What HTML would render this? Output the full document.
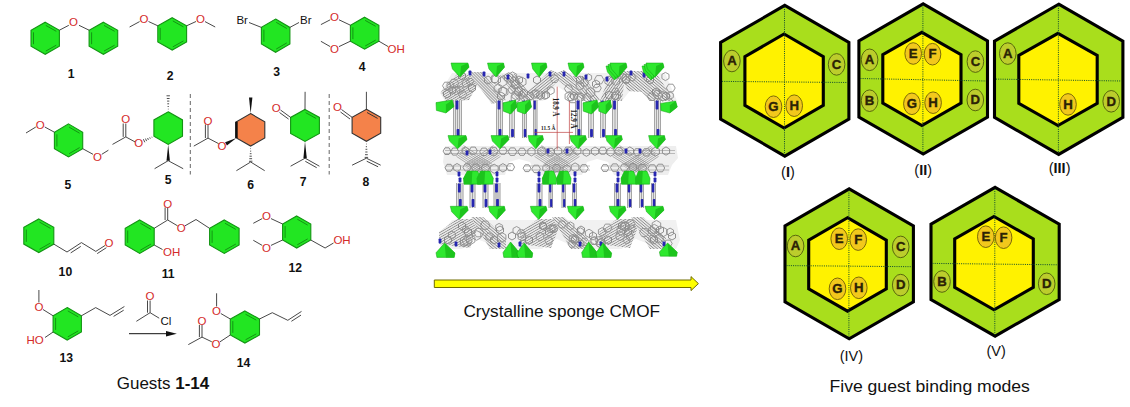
<!DOCTYPE html>
<html><head><meta charset="utf-8"><style>
html,body{margin:0;padding:0;background:#fff;}
body{width:1130px;height:407px;overflow:hidden;font-family:"Liberation Sans",sans-serif;}
svg{display:block;}
</style></head><body>
<svg width="1130" height="407" viewBox="0 0 1130 407">
<rect width="1130" height="407" fill="#fff"/>
<g id="crystal">
<defs><pattern id="hp8" width="2.2" height="2.2" patternUnits="userSpaceOnUse" patternTransform="rotate(-30)"><line x1="0" y1="1.1" x2="2.2" y2="1.1" stroke="#8c8c8c" stroke-width="0.8"/></pattern></defs>
<defs><pattern id="hp7" width="2.2" height="2.2" patternUnits="userSpaceOnUse" patternTransform="rotate(-55)"><line x1="0" y1="1.1" x2="2.2" y2="1.1" stroke="#8c8c8c" stroke-width="0.8"/></pattern></defs>
<defs><pattern id="hp6" width="2.2" height="2.2" patternUnits="userSpaceOnUse" patternTransform="rotate(40)"><line x1="0" y1="1.1" x2="2.2" y2="1.1" stroke="#8c8c8c" stroke-width="0.8"/></pattern></defs>
<defs><pattern id="hp5" width="2.2" height="2.2" patternUnits="userSpaceOnUse" patternTransform="rotate(50)"><line x1="0" y1="1.1" x2="2.2" y2="1.1" stroke="#8c8c8c" stroke-width="0.8"/></pattern></defs>
<defs><pattern id="hp4" width="2.2" height="2.2" patternUnits="userSpaceOnUse" patternTransform="rotate(38)"><line x1="0" y1="1.1" x2="2.2" y2="1.1" stroke="#8c8c8c" stroke-width="0.8"/></pattern></defs>
<defs><pattern id="hp3" width="2.2" height="2.2" patternUnits="userSpaceOnUse" patternTransform="rotate(-39)"><line x1="0" y1="1.1" x2="2.2" y2="1.1" stroke="#8c8c8c" stroke-width="0.8"/></pattern></defs>
<defs><pattern id="hp2" width="2.2" height="2.2" patternUnits="userSpaceOnUse" patternTransform="rotate(45)"><line x1="0" y1="1.1" x2="2.2" y2="1.1" stroke="#8c8c8c" stroke-width="0.8"/></pattern></defs>
<defs><pattern id="hp1" width="2.1" height="2.1" patternUnits="userSpaceOnUse" patternTransform="rotate(45)"><line x1="0" y1="1.05" x2="2.1" y2="1.05" stroke="#8c8c8c" stroke-width="0.8"/></pattern></defs>
<defs><pattern id="hp0" width="2.1" height="2.1" patternUnits="userSpaceOnUse" patternTransform="rotate(-31)"><line x1="0" y1="1.05" x2="2.1" y2="1.05" stroke="#8c8c8c" stroke-width="0.8"/></pattern></defs>
<polygon points="452.0,73.0 665.0,73.0 677.0,101.0 650.0,101.0 643.0,92.0 636.0,87.0 629.0,92.0 622.0,101.0 572.0,101.0 566.0,92.0 557.0,86.0 549.0,92.0 543.0,101.0 493.0,101.0 486.0,92.0 477.0,87.0 469.0,92.0 465.0,101.0 445.0,101.0 440.0,93.0" fill="#f1f1f1"/>
<polygon points="441.0,92.0 458.0,73.0 481.0,78.0 469.0,100.0 446.0,101.0" fill="#ebebeb"/>
<polygon points="441.0,92.0 458.0,73.0 481.0,78.0 469.0,100.0 446.0,101.0" fill="url(#hp0)"/>
<polygon points="468.0,72.0 482.0,72.0 506.0,100.0 492.0,104.0" fill="#ebebeb"/>
<polygon points="468.0,72.0 482.0,72.0 506.0,100.0 492.0,104.0" fill="url(#hp1)"/>
<polygon points="500.0,75.0 515.0,74.0 534.0,100.0 518.0,101.0" fill="#ebebeb"/>
<polygon points="500.0,75.0 515.0,74.0 534.0,100.0 518.0,101.0" fill="url(#hp2)"/>
<polygon points="551.0,70.0 563.0,75.0 540.0,100.0 526.0,93.0" fill="#ebebeb"/>
<polygon points="551.0,70.0 563.0,75.0 540.0,100.0 526.0,93.0" fill="url(#hp3)"/>
<polygon points="552.0,75.0 564.0,70.0 593.0,92.0 582.0,100.0" fill="#ebebeb"/>
<polygon points="552.0,75.0 564.0,70.0 593.0,92.0 582.0,100.0" fill="url(#hp4)"/>
<polygon points="570.0,76.0 584.0,76.0 600.0,100.0 588.0,101.0" fill="#ebebeb"/>
<polygon points="570.0,76.0 584.0,76.0 600.0,100.0 588.0,101.0" fill="url(#hp5)"/>
<polygon points="618.0,71.0 655.0,71.0 674.0,101.0 650.0,101.0 642.0,92.0 628.0,91.0" fill="#ebebeb"/>
<polygon points="618.0,71.0 655.0,71.0 674.0,101.0 650.0,101.0 642.0,92.0 628.0,91.0" fill="url(#hp6)"/>
<polygon points="610.0,74.0 625.0,74.0 622.0,101.0 600.0,101.0" fill="#ebebeb"/>
<polygon points="610.0,74.0 625.0,74.0 622.0,101.0 600.0,101.0" fill="url(#hp7)"/>
<polygon points="465.5,78.0 462.0,80.0 458.5,78.0 458.5,74.0 462.0,72.0 465.5,74.0" fill="none" stroke="#858585" stroke-width="0.9"/>
<polygon points="450.5,96.0 447.0,98.0 443.5,96.0 443.5,92.0 447.0,90.0 450.5,92.0" fill="none" stroke="#858585" stroke-width="0.9"/>
<polygon points="475.5,90.0 472.0,92.0 468.5,90.0 468.5,86.0 472.0,84.0 475.5,86.0" fill="none" stroke="#858585" stroke-width="0.9"/>
<polygon points="491.5,82.0 488.0,84.0 484.5,82.0 484.5,78.0 488.0,76.0 491.5,78.0" fill="none" stroke="#858585" stroke-width="0.9"/>
<polygon points="504.5,98.0 501.0,100.0 497.5,98.0 497.5,94.0 501.0,92.0 504.5,94.0" fill="none" stroke="#858585" stroke-width="0.9"/>
<polygon points="522.5,82.0 519.0,84.0 515.5,82.0 515.5,78.0 519.0,76.0 522.5,78.0" fill="none" stroke="#858585" stroke-width="0.9"/>
<polygon points="527.5,95.0 524.0,97.0 520.5,95.0 520.5,91.0 524.0,89.0 527.5,91.0" fill="none" stroke="#858585" stroke-width="0.9"/>
<polygon points="540.5,82.0 537.0,84.0 533.5,82.0 533.5,78.0 537.0,76.0 540.5,78.0" fill="none" stroke="#858585" stroke-width="0.9"/>
<polygon points="549.5,97.0 546.0,99.0 542.5,97.0 542.5,93.0 546.0,91.0 549.5,93.0" fill="none" stroke="#858585" stroke-width="0.9"/>
<polygon points="583.5,82.0 580.0,84.0 576.5,82.0 576.5,78.0 580.0,76.0 583.5,78.0" fill="none" stroke="#858585" stroke-width="0.9"/>
<polygon points="577.5,98.0 574.0,100.0 570.5,98.0 570.5,94.0 574.0,92.0 577.5,94.0" fill="none" stroke="#858585" stroke-width="0.9"/>
<polygon points="599.5,86.0 596.0,88.0 592.5,86.0 592.5,82.0 596.0,80.0 599.5,82.0" fill="none" stroke="#858585" stroke-width="0.9"/>
<polygon points="612.5,97.0 609.0,99.0 605.5,97.0 605.5,93.0 609.0,91.0 612.5,93.0" fill="none" stroke="#858585" stroke-width="0.9"/>
<polygon points="629.5,82.0 626.0,84.0 622.5,82.0 622.5,78.0 626.0,76.0 629.5,78.0" fill="none" stroke="#858585" stroke-width="0.9"/>
<polygon points="618.5,98.0 615.0,100.0 611.5,98.0 611.5,94.0 615.0,92.0 618.5,94.0" fill="none" stroke="#858585" stroke-width="0.9"/>
<polygon points="653.5,82.0 650.0,84.0 646.5,82.0 646.5,78.0 650.0,76.0 653.5,78.0" fill="none" stroke="#858585" stroke-width="0.9"/>
<polygon points="669.5,98.0 666.0,100.0 662.5,98.0 662.5,94.0 666.0,92.0 669.5,94.0" fill="none" stroke="#858585" stroke-width="0.9"/>
<polygon points="659.5,94.0 656.0,96.0 652.5,94.0 652.5,90.0 656.0,88.0 659.5,90.0" fill="none" stroke="#858585" stroke-width="0.9"/>
<polygon points="501.2,90.6 497.7,92.6 494.1,90.6 494.1,86.5 497.7,84.4 501.2,86.5" fill="none" stroke="#8e8e8e" stroke-width="0.9"/>
<polygon points="591.6,79.3 588.4,81.1 585.3,79.3 585.3,75.7 588.4,73.9 591.6,75.7" fill="none" stroke="#8e8e8e" stroke-width="0.9"/>
<polygon points="507.0,83.9 502.7,86.4 498.4,83.9 498.4,78.9 502.7,76.4 507.0,78.9" fill="none" stroke="#8e8e8e" stroke-width="0.9"/>
<polygon points="572.7,88.6 570.7,92.2 566.5,92.2 564.4,88.6 566.5,85.0 570.7,85.0" fill="none" stroke="#8e8e8e" stroke-width="0.9"/>
<polygon points="500.5,81.9 496.3,84.4 492.0,81.9 492.0,77.0 496.3,74.6 500.5,77.0" fill="none" stroke="#8e8e8e" stroke-width="0.9"/>
<polygon points="619.1,91.4 617.3,94.6 613.6,94.6 611.8,91.4 613.6,88.2 617.3,88.2" fill="none" stroke="#8e8e8e" stroke-width="0.9"/>
<polygon points="516.7,79.1 512.5,81.5 508.3,79.1 508.3,74.3 512.5,71.9 516.7,74.3" fill="none" stroke="#8e8e8e" stroke-width="0.9"/>
<polygon points="584.8,99.2 581.2,101.3 577.6,99.2 577.6,95.1 581.2,93.0 584.8,95.1" fill="none" stroke="#8e8e8e" stroke-width="0.9"/>
<polygon points="538.6,94.4 536.5,98.1 532.3,98.1 530.2,94.4 532.3,90.8 536.5,90.8" fill="none" stroke="#8e8e8e" stroke-width="0.9"/>
<polygon points="651.4,78.2 649.5,81.5 645.8,81.5 643.9,78.2 645.8,75.0 649.5,75.0" fill="none" stroke="#8e8e8e" stroke-width="0.9"/>
<polygon points="506.4,93.8 502.4,96.1 498.3,93.8 498.3,89.1 502.4,86.8 506.4,89.1" fill="none" stroke="#8e8e8e" stroke-width="0.9"/>
<polygon points="544.4,97.4 540.5,99.6 536.7,97.4 536.7,93.0 540.5,90.8 544.4,93.0" fill="none" stroke="#8e8e8e" stroke-width="0.9"/>
<polygon points="583.3,96.8 581.0,100.7 576.4,100.7 574.2,96.8 576.4,92.9 581.0,92.9" fill="none" stroke="#8e8e8e" stroke-width="0.9"/>
<polygon points="603.9,79.8 601.5,83.9 596.7,83.9 594.3,79.8 596.7,75.6 601.5,75.6" fill="none" stroke="#8e8e8e" stroke-width="0.9"/>
<polygon points="613.2,83.2 609.0,85.6 604.9,83.2 604.9,78.5 609.0,76.1 613.2,78.5" fill="none" stroke="#8e8e8e" stroke-width="0.9"/>
<polygon points="512.8,79.9 508.7,82.3 504.5,79.9 504.5,75.1 508.7,72.7 512.8,75.1" fill="none" stroke="#8e8e8e" stroke-width="0.9"/>
<polygon points="466.9,94.4 464.8,98.0 460.6,98.0 458.5,94.4 460.6,90.8 464.8,90.8" fill="none" stroke="#8e8e8e" stroke-width="0.9"/>
<polygon points="450.9,85.8 448.8,89.4 444.6,89.4 442.5,85.8 444.6,82.2 448.8,82.2" fill="none" stroke="#8e8e8e" stroke-width="0.9"/>
<polygon points="455.5,92.0 452.3,93.8 449.2,92.0 449.2,88.3 452.3,86.5 455.5,88.3" fill="none" stroke="#8e8e8e" stroke-width="0.9"/>
<polygon points="574.9,97.2 572.9,100.7 568.9,100.7 566.9,97.2 568.9,93.7 572.9,93.7" fill="none" stroke="#8e8e8e" stroke-width="0.9"/>
<polygon points="463.7,89.8 461.8,93.0 458.2,93.0 456.4,89.8 458.2,86.6 461.8,86.6" fill="none" stroke="#8e8e8e" stroke-width="0.9"/>
<polygon points="507.9,94.3 503.6,96.8 499.3,94.3 499.3,89.4 503.6,86.9 507.9,89.4" fill="none" stroke="#8e8e8e" stroke-width="0.9"/>
<polygon points="519.6,100.5 515.4,102.9 511.2,100.5 511.2,95.6 515.4,93.2 519.6,95.6" fill="none" stroke="#8e8e8e" stroke-width="0.9"/>
<polygon points="534.3,96.0 532.2,99.6 528.1,99.6 526.0,96.0 528.1,92.4 532.2,92.4" fill="none" stroke="#8e8e8e" stroke-width="0.9"/>
<polygon points="590.8,99.8 587.1,101.9 583.4,99.8 583.4,95.5 587.1,93.3 590.8,95.5" fill="none" stroke="#8e8e8e" stroke-width="0.9"/>
<polygon points="594.7,94.9 590.4,97.4 586.2,94.9 586.2,90.0 590.4,87.5 594.7,90.0" fill="none" stroke="#8e8e8e" stroke-width="0.9"/>
<polygon points="675.2,88.0 673.0,91.8 668.6,91.8 666.4,88.0 668.6,84.2 673.0,84.2" fill="none" stroke="#8e8e8e" stroke-width="0.9"/>
<polygon points="520.1,84.7 517.9,88.5 513.5,88.5 511.3,84.7 513.5,80.8 517.9,80.8" fill="none" stroke="#8e8e8e" stroke-width="0.9"/>
<polygon points="459.7,92.6 456.1,94.7 452.4,92.6 452.4,88.3 456.1,86.2 459.7,88.3" fill="none" stroke="#8e8e8e" stroke-width="0.9"/>
<polygon points="588.8,82.4 586.6,86.1 582.3,86.1 580.2,82.4 582.3,78.7 586.6,78.7" fill="none" stroke="#8e8e8e" stroke-width="0.9"/>
<polygon points="669.0,78.5 665.4,80.6 661.9,78.5 661.9,74.4 665.4,72.4 669.0,74.4" fill="none" stroke="#8e8e8e" stroke-width="0.9"/>
<polygon points="515.7,89.8 513.8,93.2 510.0,93.2 508.0,89.8 510.0,86.5 513.8,86.5" fill="none" stroke="#8e8e8e" stroke-width="0.9"/>
<polygon points="519.0,86.7 515.2,88.9 511.3,86.7 511.3,82.3 515.2,80.1 519.0,82.3" fill="none" stroke="#8e8e8e" stroke-width="0.9"/>
<polygon points="631.0,78.4 628.6,82.5 623.9,82.5 621.5,78.4 623.9,74.3 628.6,74.3" fill="none" stroke="#8e8e8e" stroke-width="0.9"/>
<polygon points="519.3,81.1 516.9,85.2 512.2,85.2 509.8,81.1 512.2,77.0 516.9,77.0" fill="none" stroke="#8e8e8e" stroke-width="0.9"/>
<polygon points="523.2,91.6 521.0,95.5 516.4,95.5 514.2,91.6 516.4,87.7 521.0,87.7" fill="none" stroke="#8e8e8e" stroke-width="0.9"/>
<polygon points="469.9,83.4 467.9,86.9 463.8,86.9 461.8,83.4 463.8,79.9 467.9,79.9" fill="none" stroke="#8e8e8e" stroke-width="0.9"/>
<polygon points="547.9,97.6 544.6,99.5 541.3,97.6 541.3,93.8 544.6,91.8 547.9,93.8" fill="none" stroke="#8e8e8e" stroke-width="0.9"/>
<polygon points="619.5,83.2 615.6,85.4 611.8,83.2 611.8,78.8 615.6,76.6 619.5,78.8" fill="none" stroke="#8e8e8e" stroke-width="0.9"/>
<polygon points="499.0,78.8 496.8,82.5 492.5,82.5 490.3,78.8 492.5,75.0 496.8,75.0" fill="none" stroke="#8e8e8e" stroke-width="0.9"/>
<polygon points="519.6,97.4 515.7,99.6 511.9,97.4 511.9,93.0 515.7,90.8 519.6,93.0" fill="none" stroke="#8e8e8e" stroke-width="0.9"/>
<polygon points="524.8,96.9 521.6,98.8 518.4,96.9 518.4,93.2 521.6,91.3 524.8,93.2" fill="none" stroke="#8e8e8e" stroke-width="0.9"/>
<polygon points="583.7,87.9 579.9,90.0 576.2,87.9 576.2,83.5 579.9,81.4 583.7,83.5" fill="none" stroke="#8e8e8e" stroke-width="0.9"/>
<polygon points="554.2,92.6 550.7,94.6 547.3,92.6 547.3,88.6 550.7,86.6 554.2,88.6" fill="none" stroke="#8e8e8e" stroke-width="0.9"/>
<polygon points="453.7,87.4 450.3,89.4 447.0,87.4 447.0,83.6 450.3,81.6 453.7,83.6" fill="none" stroke="#8e8e8e" stroke-width="0.9"/>
<polygon points="667.0,98.7 662.7,101.2 658.4,98.7 658.4,93.7 662.7,91.3 667.0,93.7" fill="none" stroke="#8e8e8e" stroke-width="0.9"/>
<polygon points="577.4,98.7 575.1,102.7 570.5,102.7 568.2,98.7 570.5,94.7 575.1,94.7" fill="none" stroke="#8e8e8e" stroke-width="0.9"/>
<polygon points="620.4,97.5 616.5,99.8 612.5,97.5 612.5,93.0 616.5,90.7 620.4,93.0" fill="none" stroke="#8e8e8e" stroke-width="0.9"/>
<polygon points="573.4,98.9 569.3,101.3 565.1,98.9 565.1,94.1 569.3,91.7 573.4,94.1" fill="none" stroke="#8e8e8e" stroke-width="0.9"/>
<polygon points="473.7,81.6 471.9,84.8 468.3,84.8 466.4,81.6 468.3,78.5 471.9,78.5" fill="none" stroke="#8e8e8e" stroke-width="0.9"/>
<polygon points="656.2,96.7 654.0,100.5 649.6,100.5 647.4,96.7 649.6,92.9 654.0,92.9" fill="none" stroke="#8e8e8e" stroke-width="0.9"/>
<polygon points="558.9,78.8 556.7,82.5 552.4,82.5 550.3,78.8 552.4,75.1 556.7,75.1" fill="none" stroke="#8e8e8e" stroke-width="0.9"/>
<polygon points="601.3,88.1 599.2,91.7 595.0,91.7 592.9,88.1 595.0,84.5 599.2,84.5" fill="none" stroke="#8e8e8e" stroke-width="0.9"/>
<polygon points="526.0,84.2 521.9,86.6 517.7,84.2 517.7,79.4 521.9,77.0 526.0,79.4" fill="none" stroke="#8e8e8e" stroke-width="0.9"/>
<polygon points="635.8,77.4 633.9,80.8 629.9,80.8 628.0,77.4 629.9,74.0 633.9,74.0" fill="none" stroke="#8e8e8e" stroke-width="0.9"/>
<polygon points="662.4,94.5 660.1,98.7 655.3,98.7 652.9,94.5 655.3,90.4 660.1,90.4" fill="none" stroke="#8e8e8e" stroke-width="0.9"/>
<polygon points="539.1,95.4 535.7,97.3 532.2,95.4 532.2,91.4 535.7,89.5 539.1,91.4" fill="none" stroke="#8e8e8e" stroke-width="0.9"/>
<polygon points="458.7,83.4 456.3,87.5 451.6,87.5 449.2,83.4 451.6,79.3 456.3,79.3" fill="none" stroke="#8e8e8e" stroke-width="0.9"/>
<polygon points="626.6,78.9 623.4,80.7 620.2,78.9 620.2,75.2 623.4,73.4 626.6,75.2" fill="none" stroke="#8e8e8e" stroke-width="0.9"/>
<polygon points="673.3,97.5 670.1,99.4 666.9,97.5 666.9,93.8 670.1,91.9 673.3,93.8" fill="none" stroke="#8e8e8e" stroke-width="0.9"/>
<rect x="453" y="100" width="9" height="38" fill="#e4e4e4"/>
<line x1="453.5" y1="100" x2="453.5" y2="138" stroke="#8a8a8a" stroke-width="0.7"/>
<line x1="455.5" y1="100" x2="455.5" y2="138" stroke="#8a8a8a" stroke-width="0.7"/>
<line x1="457.5" y1="100" x2="457.5" y2="138" stroke="#8a8a8a" stroke-width="0.7"/>
<line x1="459.5" y1="100" x2="459.5" y2="138" stroke="#8a8a8a" stroke-width="0.7"/>
<line x1="461.5" y1="100" x2="461.5" y2="138" stroke="#8a8a8a" stroke-width="0.7"/>
<rect x="455.6" y="100.5" width="2.8" height="9.0" rx="0.8" fill="#2626b0"/>
<rect x="456.6" y="129.0" width="2.8" height="8.0" rx="0.8" fill="#2626b0"/>
<rect x="496" y="100" width="7" height="38" fill="#e4e4e4"/>
<line x1="496.5" y1="100" x2="496.5" y2="138" stroke="#8a8a8a" stroke-width="0.7"/>
<line x1="498.5" y1="100" x2="498.5" y2="138" stroke="#8a8a8a" stroke-width="0.7"/>
<line x1="500.5" y1="100" x2="500.5" y2="138" stroke="#8a8a8a" stroke-width="0.7"/>
<line x1="502.5" y1="100" x2="502.5" y2="138" stroke="#8a8a8a" stroke-width="0.7"/>
<rect x="497.6" y="100.5" width="2.8" height="9.0" rx="0.8" fill="#2626b0"/>
<rect x="498.6" y="129.0" width="2.8" height="8.0" rx="0.8" fill="#2626b0"/>
<rect x="509" y="100" width="6" height="38" fill="#e4e4e4"/>
<line x1="509.5" y1="100" x2="509.5" y2="138" stroke="#8a8a8a" stroke-width="0.7"/>
<line x1="512.0" y1="100" x2="512.0" y2="138" stroke="#8a8a8a" stroke-width="0.7"/>
<line x1="514.5" y1="100" x2="514.5" y2="138" stroke="#8a8a8a" stroke-width="0.7"/>
<rect x="510.1" y="100.5" width="2.8" height="9.0" rx="0.8" fill="#2626b0"/>
<rect x="511.1" y="129.0" width="2.8" height="8.0" rx="0.8" fill="#2626b0"/>
<rect x="522" y="100" width="5" height="38" fill="#e4e4e4"/>
<line x1="522.5" y1="100" x2="522.5" y2="138" stroke="#8a8a8a" stroke-width="0.7"/>
<line x1="524.5" y1="100" x2="524.5" y2="138" stroke="#8a8a8a" stroke-width="0.7"/>
<line x1="526.5" y1="100" x2="526.5" y2="138" stroke="#8a8a8a" stroke-width="0.7"/>
<rect x="522.8" y="100.5" width="2.5" height="9.0" rx="0.8" fill="#2626b0"/>
<rect x="523.8" y="129.0" width="2.5" height="8.0" rx="0.8" fill="#2626b0"/>
<rect x="533" y="100" width="4.5" height="38" fill="#e4e4e4"/>
<line x1="533.5" y1="100" x2="533.5" y2="138" stroke="#8a8a8a" stroke-width="0.7"/>
<line x1="535.2" y1="100" x2="535.2" y2="138" stroke="#8a8a8a" stroke-width="0.7"/>
<line x1="537.0" y1="100" x2="537.0" y2="138" stroke="#8a8a8a" stroke-width="0.7"/>
<rect x="533.6" y="100.5" width="2.2" height="9.0" rx="0.8" fill="#2626b0"/>
<rect x="534.6" y="129.0" width="2.2" height="8.0" rx="0.8" fill="#2626b0"/>
<rect x="575" y="100" width="7" height="38" fill="#e4e4e4"/>
<line x1="575.5" y1="100" x2="575.5" y2="138" stroke="#8a8a8a" stroke-width="0.7"/>
<line x1="577.5" y1="100" x2="577.5" y2="138" stroke="#8a8a8a" stroke-width="0.7"/>
<line x1="579.5" y1="100" x2="579.5" y2="138" stroke="#8a8a8a" stroke-width="0.7"/>
<line x1="581.5" y1="100" x2="581.5" y2="138" stroke="#8a8a8a" stroke-width="0.7"/>
<rect x="576.6" y="100.5" width="2.8" height="9.0" rx="0.8" fill="#2626b0"/>
<rect x="577.6" y="129.0" width="2.8" height="8.0" rx="0.8" fill="#2626b0"/>
<rect x="588" y="100" width="6" height="38" fill="#e4e4e4"/>
<line x1="588.5" y1="100" x2="588.5" y2="138" stroke="#8a8a8a" stroke-width="0.7"/>
<line x1="591.0" y1="100" x2="591.0" y2="138" stroke="#8a8a8a" stroke-width="0.7"/>
<line x1="593.5" y1="100" x2="593.5" y2="138" stroke="#8a8a8a" stroke-width="0.7"/>
<rect x="589.1" y="100.5" width="2.8" height="9.0" rx="0.8" fill="#2626b0"/>
<rect x="590.1" y="129.0" width="2.8" height="8.0" rx="0.8" fill="#2626b0"/>
<rect x="600" y="100" width="6" height="38" fill="#e4e4e4"/>
<line x1="600.5" y1="100" x2="600.5" y2="138" stroke="#8a8a8a" stroke-width="0.7"/>
<line x1="603.0" y1="100" x2="603.0" y2="138" stroke="#8a8a8a" stroke-width="0.7"/>
<line x1="605.5" y1="100" x2="605.5" y2="138" stroke="#8a8a8a" stroke-width="0.7"/>
<rect x="601.1" y="100.5" width="2.8" height="9.0" rx="0.8" fill="#2626b0"/>
<rect x="602.1" y="129.0" width="2.8" height="8.0" rx="0.8" fill="#2626b0"/>
<rect x="612" y="100" width="6" height="38" fill="#e4e4e4"/>
<line x1="612.5" y1="100" x2="612.5" y2="138" stroke="#8a8a8a" stroke-width="0.7"/>
<line x1="615.0" y1="100" x2="615.0" y2="138" stroke="#8a8a8a" stroke-width="0.7"/>
<line x1="617.5" y1="100" x2="617.5" y2="138" stroke="#8a8a8a" stroke-width="0.7"/>
<rect x="613.1" y="100.5" width="2.8" height="9.0" rx="0.8" fill="#2626b0"/>
<rect x="614.1" y="129.0" width="2.8" height="8.0" rx="0.8" fill="#2626b0"/>
<rect x="654" y="100" width="7" height="38" fill="#e4e4e4"/>
<line x1="654.5" y1="100" x2="654.5" y2="138" stroke="#8a8a8a" stroke-width="0.7"/>
<line x1="656.5" y1="100" x2="656.5" y2="138" stroke="#8a8a8a" stroke-width="0.7"/>
<line x1="658.5" y1="100" x2="658.5" y2="138" stroke="#8a8a8a" stroke-width="0.7"/>
<line x1="660.5" y1="100" x2="660.5" y2="138" stroke="#8a8a8a" stroke-width="0.7"/>
<rect x="655.6" y="100.5" width="2.8" height="9.0" rx="0.8" fill="#2626b0"/>
<rect x="656.6" y="129.0" width="2.8" height="8.0" rx="0.8" fill="#2626b0"/>
<polygon points="445.0,146.0 676.0,146.0 678.0,158.0 672.0,165.0 668.0,175.0 650.0,175.0 614.0,175.0 608.0,162.0 597.0,159.0 587.0,162.0 582.0,175.0 536.0,175.0 530.0,162.0 519.0,159.0 509.0,162.0 505.0,175.0 447.0,175.0 443.0,162.0" fill="#eeeeee"/>
<line x1="445" y1="150.5" x2="675" y2="150.5" stroke="#a4a4a4" stroke-width="0.7"/>
<line x1="445" y1="153.5" x2="675" y2="153.5" stroke="#a4a4a4" stroke-width="0.7"/>
<polygon points="450.9,151.1 449.0,154.5 445.0,154.5 443.1,151.1 445.0,147.8 449.0,147.8" fill="none" stroke="#858585" stroke-width="0.9"/>
<polygon points="458.8,151.6 456.8,155.1 452.7,155.1 450.7,151.6 452.7,148.0 456.8,148.0" fill="none" stroke="#858585" stroke-width="0.9"/>
<polygon points="468.8,152.9 465.4,154.8 462.1,152.9 462.1,149.0 465.4,147.1 468.8,149.0" fill="none" stroke="#858585" stroke-width="0.9"/>
<polygon points="477.3,150.7 475.3,154.3 471.1,154.3 469.0,150.7 471.1,147.1 475.3,147.1" fill="none" stroke="#858585" stroke-width="0.9"/>
<polygon points="488.3,151.8 486.1,155.5 481.9,155.5 479.7,151.8 481.9,148.1 486.1,148.1" fill="none" stroke="#858585" stroke-width="0.9"/>
<polygon points="498.1,151.3 495.8,155.3 491.2,155.3 488.9,151.3 491.2,147.3 495.8,147.3" fill="none" stroke="#858585" stroke-width="0.9"/>
<polygon points="507.1,150.8 505.0,154.3 500.9,154.3 498.8,150.8 500.9,147.2 505.0,147.2" fill="none" stroke="#858585" stroke-width="0.9"/>
<polygon points="516.8,151.6 514.6,155.4 510.3,155.4 508.1,151.6 510.3,147.9 514.6,147.9" fill="none" stroke="#858585" stroke-width="0.9"/>
<polygon points="526.1,151.8 524.0,155.3 520.0,155.3 517.9,151.8 520.0,148.2 524.0,148.2" fill="none" stroke="#858585" stroke-width="0.9"/>
<polygon points="535.1,153.8 531.5,155.9 527.8,153.8 527.8,149.6 531.5,147.5 535.1,149.6" fill="none" stroke="#858585" stroke-width="0.9"/>
<polygon points="545.6,153.7 541.7,156.0 537.8,153.7 537.8,149.2 541.7,146.9 545.6,149.2" fill="none" stroke="#858585" stroke-width="0.9"/>
<polygon points="554.6,152.1 552.4,155.9 548.1,155.9 545.9,152.1 548.1,148.3 552.4,148.3" fill="none" stroke="#858585" stroke-width="0.9"/>
<polygon points="561.7,153.2 558.0,155.3 554.4,153.2 554.4,149.0 558.0,146.9 561.7,149.0" fill="none" stroke="#858585" stroke-width="0.9"/>
<polygon points="572.7,151.1 570.4,155.0 565.8,155.0 563.5,151.1 565.8,147.1 570.4,147.1" fill="none" stroke="#858585" stroke-width="0.9"/>
<polygon points="580.9,152.9 577.4,154.9 573.8,152.9 573.8,148.8 577.4,146.8 580.9,148.8" fill="none" stroke="#858585" stroke-width="0.9"/>
<polygon points="589.7,154.4 586.4,156.3 583.0,154.4 583.0,150.5 586.4,148.6 589.7,150.5" fill="none" stroke="#858585" stroke-width="0.9"/>
<polygon points="598.7,153.3 595.0,155.4 591.4,153.3 591.4,149.1 595.0,147.0 598.7,149.1" fill="none" stroke="#858585" stroke-width="0.9"/>
<polygon points="606.8,150.7 604.8,154.2 600.8,154.2 598.8,150.7 600.8,147.2 604.8,147.2" fill="none" stroke="#858585" stroke-width="0.9"/>
<polygon points="614.2,154.1 610.5,156.2 606.8,154.1 606.8,149.7 610.5,147.6 614.2,149.7" fill="none" stroke="#858585" stroke-width="0.9"/>
<polygon points="623.3,151.3 621.2,155.0 616.8,155.0 614.7,151.3 616.8,147.5 621.2,147.5" fill="none" stroke="#858585" stroke-width="0.9"/>
<polygon points="633.5,153.4 629.8,155.5 626.1,153.4 626.1,149.1 629.8,146.9 633.5,149.1" fill="none" stroke="#858585" stroke-width="0.9"/>
<polygon points="641.4,152.0 639.4,155.4 635.5,155.4 633.6,152.0 635.5,148.7 639.4,148.7" fill="none" stroke="#858585" stroke-width="0.9"/>
<polygon points="650.6,152.3 648.5,156.0 644.3,156.0 642.2,152.3 644.3,148.7 648.5,148.7" fill="none" stroke="#858585" stroke-width="0.9"/>
<polygon points="659.4,153.9 655.5,156.1 651.6,153.9 651.6,149.3 655.5,147.1 659.4,149.3" fill="none" stroke="#858585" stroke-width="0.9"/>
<polygon points="669.6,153.1 666.0,155.2 662.4,153.1 662.4,149.0 666.0,146.9 669.6,149.0" fill="none" stroke="#858585" stroke-width="0.9"/>
<line x1="463.5" y1="145.6" x2="492.5" y2="164.6" stroke="#949494" stroke-width="0.75"/>
<line x1="462.5" y1="147.2" x2="491.5" y2="166.2" stroke="#949494" stroke-width="0.75"/>
<line x1="461.5" y1="148.7" x2="490.5" y2="167.7" stroke="#949494" stroke-width="0.75"/>
<line x1="460.5" y1="150.2" x2="489.5" y2="169.2" stroke="#949494" stroke-width="0.75"/>
<line x1="459.5" y1="151.8" x2="488.5" y2="170.8" stroke="#949494" stroke-width="0.75"/>
<line x1="458.5" y1="153.3" x2="487.5" y2="172.3" stroke="#949494" stroke-width="0.75"/>
<line x1="457.5" y1="154.8" x2="486.5" y2="173.8" stroke="#949494" stroke-width="0.75"/>
<line x1="456.5" y1="156.4" x2="485.5" y2="175.4" stroke="#949494" stroke-width="0.75"/>
<line x1="500.5" y1="156.4" x2="471.5" y2="175.4" stroke="#949494" stroke-width="0.75"/>
<line x1="499.5" y1="154.8" x2="470.5" y2="173.8" stroke="#949494" stroke-width="0.75"/>
<line x1="498.5" y1="153.3" x2="469.5" y2="172.3" stroke="#949494" stroke-width="0.75"/>
<line x1="497.5" y1="151.8" x2="468.5" y2="170.8" stroke="#949494" stroke-width="0.75"/>
<line x1="496.5" y1="150.2" x2="467.5" y2="169.2" stroke="#949494" stroke-width="0.75"/>
<line x1="495.5" y1="148.7" x2="466.5" y2="167.7" stroke="#949494" stroke-width="0.75"/>
<line x1="494.5" y1="147.2" x2="465.5" y2="166.2" stroke="#949494" stroke-width="0.75"/>
<line x1="493.5" y1="145.6" x2="464.5" y2="164.6" stroke="#949494" stroke-width="0.75"/>
<polygon points="453.0,167.8 451.0,171.2 447.0,171.2 445.0,167.8 447.0,164.3 451.0,164.3" fill="none" stroke="#858585" stroke-width="0.9"/>
<polygon points="460.5,169.5 457.0,171.5 453.6,169.5 453.6,165.5 457.0,163.5 460.5,165.5" fill="none" stroke="#858585" stroke-width="0.9"/>
<polygon points="471.0,167.4 469.0,170.9 465.0,170.9 463.0,167.4 465.0,163.9 469.0,163.9" fill="none" stroke="#858585" stroke-width="0.9"/>
<polygon points="480.0,167.7 477.9,171.4 473.7,171.4 471.5,167.7 473.7,164.1 477.9,164.1" fill="none" stroke="#858585" stroke-width="0.9"/>
<polygon points="489.6,168.0 487.5,171.7 483.2,171.7 481.1,168.0 483.2,164.3 487.5,164.3" fill="none" stroke="#858585" stroke-width="0.9"/>
<polygon points="498.2,171.0 494.2,173.3 490.3,171.0 490.3,166.5 494.2,164.2 498.2,166.5" fill="none" stroke="#858585" stroke-width="0.9"/>
<polygon points="506.5,169.9 502.9,172.0 499.3,169.9 499.3,165.7 502.9,163.6 506.5,165.7" fill="none" stroke="#858585" stroke-width="0.9"/>
<polygon points="514.6,167.1 512.6,170.6 508.6,170.6 506.6,167.1 508.6,163.7 512.6,163.7" fill="none" stroke="#858585" stroke-width="0.9"/>
<line x1="446" y1="166" x2="511" y2="166" stroke="#a4a4a4" stroke-width="0.7"/>
<line x1="446" y1="170" x2="511" y2="170" stroke="#a4a4a4" stroke-width="0.7"/>
<line x1="541.5" y1="145.6" x2="570.5" y2="164.6" stroke="#949494" stroke-width="0.75"/>
<line x1="540.5" y1="147.2" x2="569.5" y2="166.2" stroke="#949494" stroke-width="0.75"/>
<line x1="539.5" y1="148.7" x2="568.5" y2="167.7" stroke="#949494" stroke-width="0.75"/>
<line x1="538.5" y1="150.2" x2="567.5" y2="169.2" stroke="#949494" stroke-width="0.75"/>
<line x1="537.5" y1="151.8" x2="566.5" y2="170.8" stroke="#949494" stroke-width="0.75"/>
<line x1="536.5" y1="153.3" x2="565.5" y2="172.3" stroke="#949494" stroke-width="0.75"/>
<line x1="535.5" y1="154.8" x2="564.5" y2="173.8" stroke="#949494" stroke-width="0.75"/>
<line x1="534.5" y1="156.4" x2="563.5" y2="175.4" stroke="#949494" stroke-width="0.75"/>
<line x1="579.5" y1="156.4" x2="550.5" y2="175.4" stroke="#949494" stroke-width="0.75"/>
<line x1="578.5" y1="154.8" x2="549.5" y2="173.8" stroke="#949494" stroke-width="0.75"/>
<line x1="577.5" y1="153.3" x2="548.5" y2="172.3" stroke="#949494" stroke-width="0.75"/>
<line x1="576.5" y1="151.8" x2="547.5" y2="170.8" stroke="#949494" stroke-width="0.75"/>
<line x1="575.5" y1="150.2" x2="546.5" y2="169.2" stroke="#949494" stroke-width="0.75"/>
<line x1="574.5" y1="148.7" x2="545.5" y2="167.7" stroke="#949494" stroke-width="0.75"/>
<line x1="573.5" y1="147.2" x2="544.5" y2="166.2" stroke="#949494" stroke-width="0.75"/>
<line x1="572.5" y1="145.6" x2="543.5" y2="164.6" stroke="#949494" stroke-width="0.75"/>
<polygon points="530.9,168.2 528.9,171.6 525.1,171.6 523.1,168.2 525.1,164.8 528.9,164.8" fill="none" stroke="#858585" stroke-width="0.9"/>
<polygon points="540.4,168.9 538.3,172.6 534.0,172.6 531.8,168.9 534.0,165.2 538.3,165.2" fill="none" stroke="#858585" stroke-width="0.9"/>
<polygon points="549.6,170.2 546.2,172.1 542.8,170.2 542.8,166.3 546.2,164.3 549.6,166.3" fill="none" stroke="#858585" stroke-width="0.9"/>
<polygon points="560.8,168.2 558.7,171.8 554.5,171.8 552.4,168.2 554.5,164.6 558.7,164.6" fill="none" stroke="#858585" stroke-width="0.9"/>
<polygon points="570.3,171.1 566.6,173.2 563.0,171.1 563.0,166.9 566.6,164.8 570.3,166.9" fill="none" stroke="#858585" stroke-width="0.9"/>
<polygon points="578.9,169.5 575.1,171.7 571.3,169.5 571.3,165.1 575.1,162.9 578.9,165.1" fill="none" stroke="#858585" stroke-width="0.9"/>
<polygon points="588.2,168.4 586.1,172.0 581.9,172.0 579.8,168.4 581.9,164.7 586.1,164.7" fill="none" stroke="#858585" stroke-width="0.9"/>
<line x1="524" y1="166" x2="590" y2="166" stroke="#a4a4a4" stroke-width="0.7"/>
<line x1="524" y1="170" x2="590" y2="170" stroke="#a4a4a4" stroke-width="0.7"/>
<line x1="619.4" y1="145.6" x2="649.4" y2="164.6" stroke="#949494" stroke-width="0.75"/>
<line x1="618.5" y1="147.1" x2="648.5" y2="166.1" stroke="#949494" stroke-width="0.75"/>
<line x1="617.5" y1="148.7" x2="647.5" y2="167.7" stroke="#949494" stroke-width="0.75"/>
<line x1="616.5" y1="150.2" x2="646.5" y2="169.2" stroke="#949494" stroke-width="0.75"/>
<line x1="615.5" y1="151.8" x2="645.5" y2="170.8" stroke="#949494" stroke-width="0.75"/>
<line x1="614.5" y1="153.3" x2="644.5" y2="172.3" stroke="#949494" stroke-width="0.75"/>
<line x1="613.5" y1="154.9" x2="643.5" y2="173.9" stroke="#949494" stroke-width="0.75"/>
<line x1="612.6" y1="156.4" x2="642.6" y2="175.4" stroke="#949494" stroke-width="0.75"/>
<line x1="658.6" y1="156.3" x2="630.6" y2="175.3" stroke="#949494" stroke-width="0.75"/>
<line x1="657.6" y1="154.8" x2="629.6" y2="173.8" stroke="#949494" stroke-width="0.75"/>
<line x1="656.5" y1="153.3" x2="628.5" y2="172.3" stroke="#949494" stroke-width="0.75"/>
<line x1="655.5" y1="151.8" x2="627.5" y2="170.8" stroke="#949494" stroke-width="0.75"/>
<line x1="654.5" y1="150.2" x2="626.5" y2="169.2" stroke="#949494" stroke-width="0.75"/>
<line x1="653.5" y1="148.7" x2="625.5" y2="167.7" stroke="#949494" stroke-width="0.75"/>
<line x1="652.4" y1="147.2" x2="624.4" y2="166.2" stroke="#949494" stroke-width="0.75"/>
<line x1="651.4" y1="145.7" x2="623.4" y2="164.7" stroke="#949494" stroke-width="0.75"/>
<polygon points="608.9,168.1 607.0,171.4 603.0,171.4 601.1,168.1 603.0,164.7 607.0,164.7" fill="none" stroke="#858585" stroke-width="0.9"/>
<polygon points="619.1,167.6 616.9,171.3 612.6,171.3 610.5,167.6 612.6,163.9 616.9,163.9" fill="none" stroke="#858585" stroke-width="0.9"/>
<polygon points="628.5,167.5 626.4,171.1 622.3,171.1 620.3,167.5 622.3,164.0 626.4,164.0" fill="none" stroke="#858585" stroke-width="0.9"/>
<polygon points="636.6,169.6 632.9,171.7 629.3,169.6 629.3,165.3 632.9,163.2 636.6,165.3" fill="none" stroke="#858585" stroke-width="0.9"/>
<polygon points="646.8,168.2 644.6,172.1 640.1,172.1 637.9,168.2 640.1,164.4 644.6,164.4" fill="none" stroke="#858585" stroke-width="0.9"/>
<polygon points="656.6,168.6 654.5,172.4 650.1,172.4 647.9,168.6 650.1,164.8 654.5,164.8" fill="none" stroke="#858585" stroke-width="0.9"/>
<polygon points="664.7,168.0 662.5,171.8 658.2,171.8 656.0,168.0 658.2,164.2 662.5,164.2" fill="none" stroke="#858585" stroke-width="0.9"/>
<line x1="602" y1="166" x2="669" y2="166" stroke="#a4a4a4" stroke-width="0.7"/>
<line x1="602" y1="170" x2="669" y2="170" stroke="#a4a4a4" stroke-width="0.7"/>
<rect x="456" y="183" width="7.5" height="25" fill="#e4e4e4"/>
<line x1="456.5" y1="183" x2="456.5" y2="208" stroke="#8a8a8a" stroke-width="0.7"/>
<line x1="458.7" y1="183" x2="458.7" y2="208" stroke="#8a8a8a" stroke-width="0.7"/>
<line x1="460.8" y1="183" x2="460.8" y2="208" stroke="#8a8a8a" stroke-width="0.7"/>
<line x1="463.0" y1="183" x2="463.0" y2="208" stroke="#8a8a8a" stroke-width="0.7"/>
<rect x="457.9" y="183.5" width="2.8" height="9.0" rx="0.8" fill="#2626b0"/>
<rect x="458.9" y="199.0" width="2.8" height="8.0" rx="0.8" fill="#2626b0"/>
<rect x="469.5" y="183" width="6.0" height="25" fill="#e4e4e4"/>
<line x1="470.0" y1="183" x2="470.0" y2="208" stroke="#8a8a8a" stroke-width="0.7"/>
<line x1="472.5" y1="183" x2="472.5" y2="208" stroke="#8a8a8a" stroke-width="0.7"/>
<line x1="475.0" y1="183" x2="475.0" y2="208" stroke="#8a8a8a" stroke-width="0.7"/>
<rect x="470.6" y="183.5" width="2.8" height="9.0" rx="0.8" fill="#2626b0"/>
<rect x="471.6" y="199.0" width="2.8" height="8.0" rx="0.8" fill="#2626b0"/>
<rect x="482.5" y="183" width="6.0" height="25" fill="#e4e4e4"/>
<line x1="483.0" y1="183" x2="483.0" y2="208" stroke="#8a8a8a" stroke-width="0.7"/>
<line x1="485.5" y1="183" x2="485.5" y2="208" stroke="#8a8a8a" stroke-width="0.7"/>
<line x1="488.0" y1="183" x2="488.0" y2="208" stroke="#8a8a8a" stroke-width="0.7"/>
<rect x="483.6" y="183.5" width="2.8" height="9.0" rx="0.8" fill="#2626b0"/>
<rect x="484.6" y="199.0" width="2.8" height="8.0" rx="0.8" fill="#2626b0"/>
<rect x="493.5" y="183" width="7.0" height="25" fill="#e4e4e4"/>
<line x1="494.0" y1="183" x2="494.0" y2="208" stroke="#8a8a8a" stroke-width="0.7"/>
<line x1="496.0" y1="183" x2="496.0" y2="208" stroke="#8a8a8a" stroke-width="0.7"/>
<line x1="498.0" y1="183" x2="498.0" y2="208" stroke="#8a8a8a" stroke-width="0.7"/>
<line x1="500.0" y1="183" x2="500.0" y2="208" stroke="#8a8a8a" stroke-width="0.7"/>
<rect x="495.1" y="183.5" width="2.8" height="9.0" rx="0.8" fill="#2626b0"/>
<rect x="496.1" y="199.0" width="2.8" height="8.0" rx="0.8" fill="#2626b0"/>
<rect x="536.5" y="183" width="6.0" height="25" fill="#e4e4e4"/>
<line x1="537.0" y1="183" x2="537.0" y2="208" stroke="#8a8a8a" stroke-width="0.7"/>
<line x1="539.5" y1="183" x2="539.5" y2="208" stroke="#8a8a8a" stroke-width="0.7"/>
<line x1="542.0" y1="183" x2="542.0" y2="208" stroke="#8a8a8a" stroke-width="0.7"/>
<rect x="537.6" y="183.5" width="2.8" height="9.0" rx="0.8" fill="#2626b0"/>
<rect x="538.6" y="199.0" width="2.8" height="8.0" rx="0.8" fill="#2626b0"/>
<rect x="548.5" y="183" width="4.5" height="25" fill="#e4e4e4"/>
<line x1="549.0" y1="183" x2="549.0" y2="208" stroke="#8a8a8a" stroke-width="0.7"/>
<line x1="550.8" y1="183" x2="550.8" y2="208" stroke="#8a8a8a" stroke-width="0.7"/>
<line x1="552.5" y1="183" x2="552.5" y2="208" stroke="#8a8a8a" stroke-width="0.7"/>
<rect x="549.1" y="183.5" width="2.2" height="9.0" rx="0.8" fill="#2626b0"/>
<rect x="550.1" y="199.0" width="2.2" height="8.0" rx="0.8" fill="#2626b0"/>
<rect x="561.5" y="183" width="4.5" height="25" fill="#e4e4e4"/>
<line x1="562.0" y1="183" x2="562.0" y2="208" stroke="#8a8a8a" stroke-width="0.7"/>
<line x1="563.8" y1="183" x2="563.8" y2="208" stroke="#8a8a8a" stroke-width="0.7"/>
<line x1="565.5" y1="183" x2="565.5" y2="208" stroke="#8a8a8a" stroke-width="0.7"/>
<rect x="562.1" y="183.5" width="2.2" height="9.0" rx="0.8" fill="#2626b0"/>
<rect x="563.1" y="199.0" width="2.2" height="8.0" rx="0.8" fill="#2626b0"/>
<rect x="572" y="183" width="5" height="25" fill="#e4e4e4"/>
<line x1="572.5" y1="183" x2="572.5" y2="208" stroke="#8a8a8a" stroke-width="0.7"/>
<line x1="574.5" y1="183" x2="574.5" y2="208" stroke="#8a8a8a" stroke-width="0.7"/>
<line x1="576.5" y1="183" x2="576.5" y2="208" stroke="#8a8a8a" stroke-width="0.7"/>
<rect x="572.8" y="183.5" width="2.5" height="9.0" rx="0.8" fill="#2626b0"/>
<rect x="573.8" y="199.0" width="2.5" height="8.0" rx="0.8" fill="#2626b0"/>
<rect x="614" y="183" width="7" height="25" fill="#e4e4e4"/>
<line x1="614.5" y1="183" x2="614.5" y2="208" stroke="#8a8a8a" stroke-width="0.7"/>
<line x1="616.5" y1="183" x2="616.5" y2="208" stroke="#8a8a8a" stroke-width="0.7"/>
<line x1="618.5" y1="183" x2="618.5" y2="208" stroke="#8a8a8a" stroke-width="0.7"/>
<line x1="620.5" y1="183" x2="620.5" y2="208" stroke="#8a8a8a" stroke-width="0.7"/>
<rect x="615.6" y="183.5" width="2.8" height="9.0" rx="0.8" fill="#2626b0"/>
<rect x="616.6" y="199.0" width="2.8" height="8.0" rx="0.8" fill="#2626b0"/>
<rect x="627" y="183" width="5" height="25" fill="#e4e4e4"/>
<line x1="627.5" y1="183" x2="627.5" y2="208" stroke="#8a8a8a" stroke-width="0.7"/>
<line x1="629.5" y1="183" x2="629.5" y2="208" stroke="#8a8a8a" stroke-width="0.7"/>
<line x1="631.5" y1="183" x2="631.5" y2="208" stroke="#8a8a8a" stroke-width="0.7"/>
<rect x="627.8" y="183.5" width="2.5" height="9.0" rx="0.8" fill="#2626b0"/>
<rect x="628.8" y="199.0" width="2.5" height="8.0" rx="0.8" fill="#2626b0"/>
<rect x="639" y="183" width="5" height="25" fill="#e4e4e4"/>
<line x1="639.5" y1="183" x2="639.5" y2="208" stroke="#8a8a8a" stroke-width="0.7"/>
<line x1="641.5" y1="183" x2="641.5" y2="208" stroke="#8a8a8a" stroke-width="0.7"/>
<line x1="643.5" y1="183" x2="643.5" y2="208" stroke="#8a8a8a" stroke-width="0.7"/>
<rect x="639.8" y="183.5" width="2.5" height="9.0" rx="0.8" fill="#2626b0"/>
<rect x="640.8" y="199.0" width="2.5" height="8.0" rx="0.8" fill="#2626b0"/>
<rect x="651" y="183" width="5" height="25" fill="#e4e4e4"/>
<line x1="651.5" y1="183" x2="651.5" y2="208" stroke="#8a8a8a" stroke-width="0.7"/>
<line x1="653.5" y1="183" x2="653.5" y2="208" stroke="#8a8a8a" stroke-width="0.7"/>
<line x1="655.5" y1="183" x2="655.5" y2="208" stroke="#8a8a8a" stroke-width="0.7"/>
<rect x="651.8" y="183.5" width="2.5" height="9.0" rx="0.8" fill="#2626b0"/>
<rect x="652.8" y="199.0" width="2.5" height="8.0" rx="0.8" fill="#2626b0"/>
<polygon points="442.0,232.0 452.0,220.0 676.0,220.0 680.0,240.0 676.0,249.0 656.0,249.0 646.0,243.0 636.0,239.0 626.0,243.0 622.0,249.0 572.0,249.0 566.0,243.0 557.0,239.0 548.0,243.0 542.0,249.0 493.0,249.0 487.0,243.0 477.0,239.0 468.0,243.0 462.0,249.0 440.0,249.0" fill="#f1f1f1"/>
<polygon points="457.0,219.0 481.0,219.0 470.0,248.0 439.0,244.0 439.0,232.0" fill="#ebebeb"/>
<polygon points="457.0,219.0 481.0,219.0 470.0,248.0 439.0,244.0 439.0,232.0" fill="url(#hp8)"/>
<polygon points="471.0,217.0 483.0,217.0 506.0,238.0 506.0,249.0 490.0,249.0" fill="#ebebeb"/>
<polygon points="471.0,217.0 483.0,217.0 506.0,238.0 506.0,249.0 490.0,249.0" fill="url(#hp6)"/>
<polygon points="465.5,228.0 462.0,230.0 458.5,228.0 458.5,224.0 462.0,222.0 465.5,224.0" fill="none" stroke="#858585" stroke-width="0.9"/>
<polygon points="451.5,242.0 448.0,244.0 444.5,242.0 444.5,238.0 448.0,236.0 451.5,238.0" fill="none" stroke="#858585" stroke-width="0.9"/>
<polygon points="471.5,234.0 468.0,236.0 464.5,234.0 464.5,230.0 468.0,228.0 471.5,230.0" fill="none" stroke="#858585" stroke-width="0.9"/>
<polygon points="497.5,242.0 494.0,244.0 490.5,242.0 490.5,238.0 494.0,236.0 497.5,238.0" fill="none" stroke="#858585" stroke-width="0.9"/>
<polygon points="503.5,232.0 500.0,234.0 496.5,232.0 496.5,228.0 500.0,226.0 503.5,228.0" fill="none" stroke="#858585" stroke-width="0.9"/>
<polygon points="515.5,238.0 512.0,240.0 508.5,238.0 508.5,234.0 512.0,232.0 515.5,234.0" fill="none" stroke="#858585" stroke-width="0.9"/>
<polygon points="538.0,219.0 562.0,219.0 551.0,248.0 520.0,244.0 520.0,232.0" fill="#ebebeb"/>
<polygon points="538.0,219.0 562.0,219.0 551.0,248.0 520.0,244.0 520.0,232.0" fill="url(#hp8)"/>
<polygon points="552.0,217.0 564.0,217.0 587.0,238.0 587.0,249.0 571.0,249.0" fill="#ebebeb"/>
<polygon points="552.0,217.0 564.0,217.0 587.0,238.0 587.0,249.0 571.0,249.0" fill="url(#hp6)"/>
<polygon points="546.5,228.0 543.0,230.0 539.5,228.0 539.5,224.0 543.0,222.0 546.5,224.0" fill="none" stroke="#858585" stroke-width="0.9"/>
<polygon points="532.5,242.0 529.0,244.0 525.5,242.0 525.5,238.0 529.0,236.0 532.5,238.0" fill="none" stroke="#858585" stroke-width="0.9"/>
<polygon points="552.5,234.0 549.0,236.0 545.5,234.0 545.5,230.0 549.0,228.0 552.5,230.0" fill="none" stroke="#858585" stroke-width="0.9"/>
<polygon points="578.5,242.0 575.0,244.0 571.5,242.0 571.5,238.0 575.0,236.0 578.5,238.0" fill="none" stroke="#858585" stroke-width="0.9"/>
<polygon points="584.5,232.0 581.0,234.0 577.5,232.0 577.5,228.0 581.0,226.0 584.5,228.0" fill="none" stroke="#858585" stroke-width="0.9"/>
<polygon points="596.5,238.0 593.0,240.0 589.5,238.0 589.5,234.0 593.0,232.0 596.5,234.0" fill="none" stroke="#858585" stroke-width="0.9"/>
<polygon points="617.0,219.0 641.0,219.0 630.0,248.0 599.0,244.0 599.0,232.0" fill="#ebebeb"/>
<polygon points="617.0,219.0 641.0,219.0 630.0,248.0 599.0,244.0 599.0,232.0" fill="url(#hp8)"/>
<polygon points="631.0,217.0 643.0,217.0 666.0,238.0 666.0,249.0 650.0,249.0" fill="#ebebeb"/>
<polygon points="631.0,217.0 643.0,217.0 666.0,238.0 666.0,249.0 650.0,249.0" fill="url(#hp6)"/>
<polygon points="625.5,228.0 622.0,230.0 618.5,228.0 618.5,224.0 622.0,222.0 625.5,224.0" fill="none" stroke="#858585" stroke-width="0.9"/>
<polygon points="611.5,242.0 608.0,244.0 604.5,242.0 604.5,238.0 608.0,236.0 611.5,238.0" fill="none" stroke="#858585" stroke-width="0.9"/>
<polygon points="631.5,234.0 628.0,236.0 624.5,234.0 624.5,230.0 628.0,228.0 631.5,230.0" fill="none" stroke="#858585" stroke-width="0.9"/>
<polygon points="657.5,242.0 654.0,244.0 650.5,242.0 650.5,238.0 654.0,236.0 657.5,238.0" fill="none" stroke="#858585" stroke-width="0.9"/>
<polygon points="663.5,232.0 660.0,234.0 656.5,232.0 656.5,228.0 660.0,226.0 663.5,228.0" fill="none" stroke="#858585" stroke-width="0.9"/>
<polygon points="675.5,238.0 672.0,240.0 668.5,238.0 668.5,234.0 672.0,232.0 675.5,234.0" fill="none" stroke="#858585" stroke-width="0.9"/>
<polygon points="520.1,232.6 516.6,234.6 513.0,232.6 513.0,228.5 516.6,226.5 520.1,228.5" fill="none" stroke="#8e8e8e" stroke-width="0.9"/>
<polygon points="583.8,233.6 580.4,235.5 577.1,233.6 577.1,229.7 580.4,227.8 583.8,229.7" fill="none" stroke="#8e8e8e" stroke-width="0.9"/>
<polygon points="546.3,227.9 543.2,229.7 540.1,227.9 540.1,224.3 543.2,222.5 546.3,224.3" fill="none" stroke="#8e8e8e" stroke-width="0.9"/>
<polygon points="632.9,238.4 629.7,240.3 626.5,238.4 626.5,234.8 629.7,232.9 632.9,234.8" fill="none" stroke="#8e8e8e" stroke-width="0.9"/>
<polygon points="588.8,241.8 586.7,245.4 582.6,245.4 580.5,241.8 582.6,238.2 586.7,238.2" fill="none" stroke="#8e8e8e" stroke-width="0.9"/>
<polygon points="592.6,235.4 589.0,237.5 585.4,235.4 585.4,231.3 589.0,229.2 592.6,231.3" fill="none" stroke="#8e8e8e" stroke-width="0.9"/>
<polygon points="625.6,233.0 621.4,235.5 617.1,233.0 617.1,228.1 621.4,225.6 625.6,228.1" fill="none" stroke="#8e8e8e" stroke-width="0.9"/>
<polygon points="555.1,228.9 552.9,232.6 548.6,232.6 546.4,228.9 548.6,225.1 552.9,225.1" fill="none" stroke="#8e8e8e" stroke-width="0.9"/>
<polygon points="635.3,228.4 633.4,231.7 629.6,231.7 627.8,228.4 629.6,225.1 633.4,225.1" fill="none" stroke="#8e8e8e" stroke-width="0.9"/>
<polygon points="667.2,234.4 663.0,236.8 658.8,234.4 658.8,229.6 663.0,227.1 667.2,229.6" fill="none" stroke="#8e8e8e" stroke-width="0.9"/>
<polygon points="474.9,242.0 470.7,244.5 466.4,242.0 466.4,237.1 470.7,234.7 474.9,237.1" fill="none" stroke="#8e8e8e" stroke-width="0.9"/>
<polygon points="603.9,240.6 601.7,244.4 597.3,244.4 595.2,240.6 597.3,236.8 601.7,236.8" fill="none" stroke="#8e8e8e" stroke-width="0.9"/>
<polygon points="557.9,228.7 555.8,232.3 551.7,232.3 549.6,228.7 551.7,225.1 555.8,225.1" fill="none" stroke="#8e8e8e" stroke-width="0.9"/>
<polygon points="579.3,238.8 577.2,242.4 573.1,242.4 571.1,238.8 573.1,235.2 577.2,235.2" fill="none" stroke="#8e8e8e" stroke-width="0.9"/>
<polygon points="526.2,243.5 524.4,246.6 520.8,246.6 519.0,243.5 520.8,240.3 524.4,240.3" fill="none" stroke="#8e8e8e" stroke-width="0.9"/>
<polygon points="605.2,245.5 601.0,248.0 596.7,245.5 596.7,240.6 601.0,238.1 605.2,240.6" fill="none" stroke="#8e8e8e" stroke-width="0.9"/>
<polygon points="635.2,223.9 632.8,227.9 628.2,227.9 625.8,223.9 628.2,219.8 632.8,219.8" fill="none" stroke="#8e8e8e" stroke-width="0.9"/>
<polygon points="472.1,241.0 469.6,245.2 464.7,245.2 462.3,241.0 464.7,236.7 469.6,236.7" fill="none" stroke="#8e8e8e" stroke-width="0.9"/>
<polygon points="575.7,243.9 573.8,247.2 569.9,247.2 568.0,243.9 569.9,240.5 573.8,240.5" fill="none" stroke="#8e8e8e" stroke-width="0.9"/>
<polygon points="502.6,229.3 499.1,231.3 495.7,229.3 495.7,225.3 499.1,223.4 502.6,225.3" fill="none" stroke="#8e8e8e" stroke-width="0.9"/>
<polygon points="505.9,239.8 501.7,242.3 497.4,239.8 497.4,234.9 501.7,232.5 505.9,234.9" fill="none" stroke="#8e8e8e" stroke-width="0.9"/>
<polygon points="673.5,234.0 670.1,235.9 666.6,234.0 666.6,230.0 670.1,228.1 673.5,230.0" fill="none" stroke="#8e8e8e" stroke-width="0.9"/>
<polygon points="543.8,238.8 540.0,241.1 536.2,238.8 536.2,234.4 540.0,232.2 543.8,234.4" fill="none" stroke="#8e8e8e" stroke-width="0.9"/>
<polygon points="483.7,232.6 481.3,236.8 476.4,236.8 474.0,232.6 476.4,228.4 481.3,228.4" fill="none" stroke="#8e8e8e" stroke-width="0.9"/>
<polygon points="468.9,243.4 464.6,245.8 460.4,243.4 460.4,238.5 464.6,236.1 468.9,238.5" fill="none" stroke="#8e8e8e" stroke-width="0.9"/>
<polygon points="584.2,243.6 582.3,246.9 578.5,246.9 576.6,243.6 578.5,240.3 582.3,240.3" fill="none" stroke="#8e8e8e" stroke-width="0.9"/>
<polygon points="480.8,237.8 476.6,240.3 472.3,237.8 472.3,232.9 476.6,230.5 480.8,232.9" fill="none" stroke="#8e8e8e" stroke-width="0.9"/>
<polygon points="604.3,245.7 600.4,248.0 596.6,245.7 596.6,241.3 600.4,239.1 604.3,241.3" fill="none" stroke="#8e8e8e" stroke-width="0.9"/>
<polygon points="655.3,232.4 651.9,234.3 648.5,232.4 648.5,228.4 651.9,226.4 655.3,228.4" fill="none" stroke="#8e8e8e" stroke-width="0.9"/>
<polygon points="492.8,238.6 489.3,240.6 485.9,238.6 485.9,234.7 489.3,232.7 492.8,234.7" fill="none" stroke="#8e8e8e" stroke-width="0.9"/>
<polygon points="629.0,228.9 624.7,231.4 620.4,228.9 620.4,224.0 624.7,221.5 629.0,224.0" fill="none" stroke="#8e8e8e" stroke-width="0.9"/>
<polygon points="612.0,227.9 609.8,231.8 605.3,231.8 603.1,227.9 605.3,224.1 609.8,224.1" fill="none" stroke="#8e8e8e" stroke-width="0.9"/>
<polygon points="648.8,232.6 646.5,236.6 641.9,236.6 639.5,232.6 641.9,228.6 646.5,228.6" fill="none" stroke="#8e8e8e" stroke-width="0.9"/>
<polygon points="556.2,228.5 554.3,231.9 550.3,231.9 548.4,228.5 550.3,225.1 554.3,225.1" fill="none" stroke="#8e8e8e" stroke-width="0.9"/>
<polygon points="672.2,243.5 670.2,246.9 666.3,246.9 664.3,243.5 666.3,240.1 670.2,240.1" fill="none" stroke="#8e8e8e" stroke-width="0.9"/>
<polygon points="629.6,226.3 627.3,230.2 622.9,230.2 620.6,226.3 622.9,222.4 627.3,222.4" fill="none" stroke="#8e8e8e" stroke-width="0.9"/>
<polygon points="658.5,231.5 654.3,233.9 650.2,231.5 650.2,226.7 654.3,224.3 658.5,226.7" fill="none" stroke="#8e8e8e" stroke-width="0.9"/>
<polygon points="490.0,225.2 487.6,229.3 482.9,229.3 480.5,225.2 482.9,221.1 487.6,221.1" fill="none" stroke="#8e8e8e" stroke-width="0.9"/>
<polygon points="467.3,245.0 463.9,247.0 460.4,245.0 460.4,241.0 463.9,239.0 467.3,241.0" fill="none" stroke="#8e8e8e" stroke-width="0.9"/>
<polygon points="552.8,240.6 550.8,244.1 546.7,244.1 544.7,240.6 546.7,237.1 550.8,237.1" fill="none" stroke="#8e8e8e" stroke-width="0.9"/>
<polygon points="525.3,233.5 523.2,237.2 518.9,237.2 516.7,233.5 518.9,229.8 523.2,229.8" fill="none" stroke="#8e8e8e" stroke-width="0.9"/>
<polygon points="598.3,240.8 596.2,244.5 591.9,244.5 589.8,240.8 591.9,237.1 596.2,237.1" fill="none" stroke="#8e8e8e" stroke-width="0.9"/>
<polygon points="573.9,227.9 570.5,229.8 567.0,227.9 567.0,223.9 570.5,221.9 573.9,223.9" fill="none" stroke="#8e8e8e" stroke-width="0.9"/>
<polygon points="660.7,227.8 656.5,230.2 652.2,227.8 652.2,222.9 656.5,220.4 660.7,222.9" fill="none" stroke="#8e8e8e" stroke-width="0.9"/>
<polygon points="605.8,234.0 602.1,236.1 598.4,234.0 598.4,229.7 602.1,227.6 605.8,229.7" fill="none" stroke="#8e8e8e" stroke-width="0.9"/>
<polygon points="525.6,238.8 521.9,240.9 518.1,238.8 518.1,234.4 521.9,232.2 525.6,234.4" fill="none" stroke="#8e8e8e" stroke-width="0.9"/>
<polygon points="566.1,224.4 564.1,227.9 560.0,227.9 558.0,224.4 560.0,221.0 564.1,221.0" fill="none" stroke="#8e8e8e" stroke-width="0.9"/>
<polygon points="597.7,242.4 594.4,244.3 591.1,242.4 591.1,238.6 594.4,236.7 597.7,238.6" fill="none" stroke="#8e8e8e" stroke-width="0.9"/>
<polygon points="655.8,238.7 653.9,242.0 650.1,242.0 648.2,238.7 650.1,235.5 653.9,235.5" fill="none" stroke="#8e8e8e" stroke-width="0.9"/>
<polygon points="663.2,240.7 659.3,243.0 655.4,240.7 655.4,236.2 659.3,234.0 663.2,236.2" fill="none" stroke="#8e8e8e" stroke-width="0.9"/>
<polygon points="576.6,240.7 573.0,242.8 569.3,240.7 569.3,236.4 573.0,234.3 576.6,236.4" fill="none" stroke="#8e8e8e" stroke-width="0.9"/>
<polygon points="630.4,239.9 628.5,243.2 624.7,243.2 622.9,239.9 624.7,236.7 628.5,236.7" fill="none" stroke="#8e8e8e" stroke-width="0.9"/>
<polygon points="624.1,238.4 620.1,240.7 616.0,238.4 616.0,233.7 620.1,231.4 624.1,233.7" fill="none" stroke="#8e8e8e" stroke-width="0.9"/>
<polygon points="469.2,229.5 467.4,232.7 463.7,232.7 461.9,229.5 463.7,226.3 467.4,226.3" fill="none" stroke="#8e8e8e" stroke-width="0.9"/>
<polygon points="455.4,237.1 451.9,239.1 448.5,237.1 448.5,233.1 451.9,231.2 455.4,233.1" fill="none" stroke="#8e8e8e" stroke-width="0.9"/>
<rect x="468.6" y="70.5" width="2.8" height="5.0" rx="0.8" fill="#2626b0"/>
<rect x="482.6" y="71.5" width="2.8" height="5.0" rx="0.8" fill="#2626b0"/>
<rect x="506.6" y="74.5" width="2.8" height="5.0" rx="0.8" fill="#2626b0"/>
<rect x="526.6" y="73.5" width="2.8" height="5.0" rx="0.8" fill="#2626b0"/>
<rect x="548.6" y="71.5" width="2.8" height="5.0" rx="0.8" fill="#2626b0"/>
<rect x="562.6" y="71.5" width="2.8" height="5.0" rx="0.8" fill="#2626b0"/>
<rect x="584.6" y="74.5" width="2.8" height="5.0" rx="0.8" fill="#2626b0"/>
<rect x="605.6" y="76.5" width="2.8" height="5.0" rx="0.8" fill="#2626b0"/>
<rect x="629.6" y="70.5" width="2.8" height="5.0" rx="0.8" fill="#2626b0"/>
<rect x="642.6" y="72.5" width="2.8" height="5.0" rx="0.8" fill="#2626b0"/>
<rect x="465.6" y="150.5" width="2.8" height="5.0" rx="0.8" fill="#2626b0"/>
<rect x="488.6" y="149.5" width="2.8" height="5.0" rx="0.8" fill="#2626b0"/>
<rect x="546.6" y="148.5" width="2.8" height="5.0" rx="0.8" fill="#2626b0"/>
<rect x="565.6" y="148.5" width="2.8" height="5.0" rx="0.8" fill="#2626b0"/>
<rect x="624.6" y="148.5" width="2.8" height="5.0" rx="0.8" fill="#2626b0"/>
<rect x="638.6" y="148.5" width="2.8" height="5.0" rx="0.8" fill="#2626b0"/>
<rect x="457.6" y="171.5" width="2.8" height="5.0" rx="0.8" fill="#2626b0"/>
<rect x="458.6" y="177.5" width="2.8" height="5.0" rx="0.8" fill="#2626b0"/>
<rect x="495.6" y="171.5" width="2.8" height="5.0" rx="0.8" fill="#2626b0"/>
<rect x="495.6" y="177.5" width="2.8" height="5.0" rx="0.8" fill="#2626b0"/>
<rect x="537.6" y="171.5" width="2.8" height="5.0" rx="0.8" fill="#2626b0"/>
<rect x="537.6" y="177.5" width="2.8" height="5.0" rx="0.8" fill="#2626b0"/>
<rect x="573.6" y="171.5" width="2.8" height="5.0" rx="0.8" fill="#2626b0"/>
<rect x="573.6" y="177.5" width="2.8" height="5.0" rx="0.8" fill="#2626b0"/>
<rect x="616.6" y="171.5" width="2.8" height="5.0" rx="0.8" fill="#2626b0"/>
<rect x="616.6" y="177.5" width="2.8" height="5.0" rx="0.8" fill="#2626b0"/>
<rect x="653.6" y="171.5" width="2.8" height="5.0" rx="0.8" fill="#2626b0"/>
<rect x="653.6" y="177.5" width="2.8" height="5.0" rx="0.8" fill="#2626b0"/>
<rect x="438.6" y="238.5" width="2.8" height="5.0" rx="0.8" fill="#2626b0"/>
<rect x="454.6" y="241.5" width="2.8" height="5.0" rx="0.8" fill="#2626b0"/>
<rect x="497.6" y="242.5" width="2.8" height="5.0" rx="0.8" fill="#2626b0"/>
<rect x="518.6" y="241.5" width="2.8" height="5.0" rx="0.8" fill="#2626b0"/>
<rect x="578.6" y="241.5" width="2.8" height="5.0" rx="0.8" fill="#2626b0"/>
<rect x="599.6" y="241.5" width="2.8" height="5.0" rx="0.8" fill="#2626b0"/>
<rect x="662.6" y="241.5" width="2.8" height="5.0" rx="0.8" fill="#2626b0"/>
<polygon points="451.0,63.0 467.9,63.0 469.0,67.2 460.0,77.0 452.4,68.9" fill="#2ee82e" stroke="#129c12" stroke-width="0.5"/>
<polygon points="467.9,63.0 469.0,67.2 460.0,77.0 461.1,66.1" fill="#1cc41c"/>
<polygon points="487.5,63.0 503.5,63.0 504.5,67.2 496.0,77.0 488.9,68.9" fill="#2ee82e" stroke="#129c12" stroke-width="0.5"/>
<polygon points="503.5,63.0 504.5,67.2 496.0,77.0 497.0,66.1" fill="#1cc41c"/>
<polygon points="531.5,63.0 546.1,63.0 547.0,67.2 539.2,77.0 532.7,68.9" fill="#2ee82e" stroke="#129c12" stroke-width="0.5"/>
<polygon points="546.1,63.0 547.0,67.2 539.2,77.0 540.2,66.1" fill="#1cc41c"/>
<polygon points="568.0,63.0 583.0,63.0 584.0,67.2 576.0,77.0 569.3,68.9" fill="#2ee82e" stroke="#129c12" stroke-width="0.5"/>
<polygon points="583.0,63.0 584.0,67.2 576.0,77.0 577.0,66.1" fill="#1cc41c"/>
<polygon points="606.0,66.0 622.0,66.0 623.0,70.2 614.5,80.0 607.4,71.9" fill="#2ee82e" stroke="#129c12" stroke-width="0.5"/>
<polygon points="622.0,66.0 623.0,70.2 614.5,80.0 615.5,69.1" fill="#1cc41c"/>
<polygon points="608.0,64.5 624.0,64.5 625.0,68.7 616.5,78.5 609.4,70.4" fill="#2ee82e" stroke="#129c12" stroke-width="0.5"/>
<polygon points="624.0,64.5 625.0,68.7 616.5,78.5 617.5,67.6" fill="#1cc41c"/>
<polygon points="610.0,63.0 626.0,63.0 627.0,67.2 618.5,77.0 611.4,68.9" fill="#2ee82e" stroke="#129c12" stroke-width="0.5"/>
<polygon points="626.0,63.0 627.0,67.2 618.5,77.0 619.5,66.1" fill="#1cc41c"/>
<polygon points="642.0,66.0 658.9,66.0 660.0,70.2 651.0,80.0 643.4,71.9" fill="#2ee82e" stroke="#129c12" stroke-width="0.5"/>
<polygon points="658.9,66.0 660.0,70.2 651.0,80.0 652.1,69.1" fill="#1cc41c"/>
<polygon points="644.0,64.5 660.9,64.5 662.0,68.7 653.0,78.5 645.4,70.4" fill="#2ee82e" stroke="#129c12" stroke-width="0.5"/>
<polygon points="660.9,64.5 662.0,68.7 653.0,78.5 654.1,67.6" fill="#1cc41c"/>
<polygon points="646.0,63.0 662.9,63.0 664.0,67.2 655.0,77.0 647.4,68.9" fill="#2ee82e" stroke="#129c12" stroke-width="0.5"/>
<polygon points="662.9,63.0 664.0,67.2 655.0,77.0 656.1,66.1" fill="#1cc41c"/>
<polygon points="436.0,102.6 452.2,100.0 454.0,106.5 445.9,113.0 436.4,110.4" fill="#2ee82e" stroke="#129c12" stroke-width="0.5"/>
<polygon points="452.2,100.0 454.0,106.5 445.9,113.0 445.9,104.5" fill="#1cc41c"/>
<polygon points="503.0,102.8 515.6,100.0 517.0,107.0 510.7,114.0 503.3,111.2" fill="#2ee82e" stroke="#129c12" stroke-width="0.5"/>
<polygon points="515.6,100.0 517.0,107.0 510.7,114.0 510.7,104.9" fill="#1cc41c"/>
<polygon points="517.0,102.8 530.0,100.0 531.5,107.0 525.0,114.0 517.3,111.2" fill="#2ee82e" stroke="#129c12" stroke-width="0.5"/>
<polygon points="530.0,100.0 531.5,107.0 525.0,114.0 525.0,104.9" fill="#1cc41c"/>
<polygon points="583.0,102.8 597.0,100.0 598.5,107.0 591.5,114.0 583.3,111.2" fill="#2ee82e" stroke="#129c12" stroke-width="0.5"/>
<polygon points="597.0,100.0 598.5,107.0 591.5,114.0 591.5,104.9" fill="#1cc41c"/>
<polygon points="598.5,102.8 610.3,100.0 611.6,107.0 605.7,114.0 598.8,111.2" fill="#2ee82e" stroke="#129c12" stroke-width="0.5"/>
<polygon points="610.3,100.0 611.6,107.0 605.7,114.0 605.7,104.9" fill="#1cc41c"/>
<polygon points="660.6,103.4 675.6,101.0 677.3,107.0 669.8,113.0 660.9,110.6" fill="#2ee82e" stroke="#129c12" stroke-width="0.5"/>
<polygon points="675.6,101.0 677.3,107.0 669.8,113.0 669.8,105.2" fill="#1cc41c"/>
<polygon points="448.0,135.6 465.9,135.6 467.0,139.6 457.5,148.8 449.5,141.1" fill="#2ee82e" stroke="#129c12" stroke-width="0.5"/>
<polygon points="465.9,135.6 467.0,139.6 457.5,148.8 458.6,138.5" fill="#1cc41c"/>
<polygon points="491.0,135.6 507.9,135.6 509.0,139.6 500.0,148.8 492.4,141.1" fill="#2ee82e" stroke="#129c12" stroke-width="0.5"/>
<polygon points="507.9,135.6 509.0,139.6 500.0,148.8 501.1,138.5" fill="#1cc41c"/>
<polygon points="528.0,135.6 542.6,135.6 543.5,139.6 535.8,148.8 529.2,141.1" fill="#2ee82e" stroke="#129c12" stroke-width="0.5"/>
<polygon points="542.6,135.6 543.5,139.6 535.8,148.8 536.7,138.5" fill="#1cc41c"/>
<polygon points="569.8,135.6 585.5,135.6 586.5,139.6 578.1,148.8 571.1,141.1" fill="#2ee82e" stroke="#129c12" stroke-width="0.5"/>
<polygon points="585.5,135.6 586.5,139.6 578.1,148.8 579.2,138.5" fill="#1cc41c"/>
<polygon points="605.6,135.6 621.4,135.6 622.4,139.6 614.0,148.8 606.9,141.1" fill="#2ee82e" stroke="#129c12" stroke-width="0.5"/>
<polygon points="621.4,135.6 622.4,139.6 614.0,148.8 615.0,138.5" fill="#1cc41c"/>
<polygon points="648.6,135.6 664.4,135.6 665.4,139.6 657.0,148.8 649.9,141.1" fill="#2ee82e" stroke="#129c12" stroke-width="0.5"/>
<polygon points="664.4,135.6 665.4,139.6 657.0,148.8 658.0,138.5" fill="#1cc41c"/>
<polygon points="467.4,171.0 477.5,171.0 481.4,178.3 480.9,184.2 464.0,184.2 463.5,178.3" fill="#2ee82e" stroke="#129c12" stroke-width="0.5"/>
<polygon points="467.4,171.0 472.4,171.0 471.6,184.2 464.0,184.2 463.5,178.3" fill="#1cc41c"/>
<polygon points="480.6,171.0 489.7,171.0 493.3,178.3 492.8,184.2 477.5,184.2 477.0,178.3" fill="#2ee82e" stroke="#129c12" stroke-width="0.5"/>
<polygon points="480.6,171.0 485.1,171.0 484.3,184.2 477.5,184.2 477.0,178.3" fill="#1cc41c"/>
<polygon points="545.4,171.0 553.5,171.0 556.6,178.3 556.2,184.2 542.7,184.2 542.3,178.3" fill="#2ee82e" stroke="#129c12" stroke-width="0.5"/>
<polygon points="545.4,171.0 549.5,171.0 548.7,184.2 542.7,184.2 542.3,178.3" fill="#1cc41c"/>
<polygon points="559.8,171.0 567.8,171.0 571.0,178.3 570.6,184.2 557.0,184.2 556.6,178.3" fill="#2ee82e" stroke="#129c12" stroke-width="0.5"/>
<polygon points="559.8,171.0 563.8,171.0 563.1,184.2 557.0,184.2 556.6,178.3" fill="#1cc41c"/>
<polygon points="624.5,171.0 633.2,171.0 636.7,178.3 636.2,184.2 621.5,184.2 621.0,178.3" fill="#2ee82e" stroke="#129c12" stroke-width="0.5"/>
<polygon points="624.5,171.0 628.9,171.0 628.1,184.2 621.5,184.2 621.0,178.3" fill="#1cc41c"/>
<polygon points="638.7,171.0 646.8,171.0 650.0,178.3 649.6,184.2 635.9,184.2 635.5,178.3" fill="#2ee82e" stroke="#129c12" stroke-width="0.5"/>
<polygon points="638.7,171.0 642.8,171.0 642.0,184.2 635.9,184.2 635.5,178.3" fill="#1cc41c"/>
<polygon points="450.3,206.3 467.1,206.3 468.2,210.2 459.2,219.4 451.7,211.8" fill="#2ee82e" stroke="#129c12" stroke-width="0.5"/>
<polygon points="467.1,206.3 468.2,210.2 459.2,219.4 460.3,209.2" fill="#1cc41c"/>
<polygon points="488.5,206.3 504.3,206.3 505.3,210.2 496.9,219.4 489.8,211.8" fill="#2ee82e" stroke="#129c12" stroke-width="0.5"/>
<polygon points="504.3,206.3 505.3,210.2 496.9,219.4 497.9,209.2" fill="#1cc41c"/>
<polygon points="530.4,206.3 546.0,206.3 547.0,210.2 538.7,219.4 531.7,211.8" fill="#2ee82e" stroke="#129c12" stroke-width="0.5"/>
<polygon points="546.0,206.3 547.0,210.2 538.7,219.4 539.7,209.2" fill="#1cc41c"/>
<polygon points="567.4,206.3 583.0,206.3 584.0,210.2 575.7,219.4 568.7,211.8" fill="#2ee82e" stroke="#129c12" stroke-width="0.5"/>
<polygon points="583.0,206.3 584.0,210.2 575.7,219.4 576.7,209.2" fill="#1cc41c"/>
<polygon points="609.2,206.3 625.0,206.3 626.0,210.2 617.6,219.4 610.5,211.8" fill="#2ee82e" stroke="#129c12" stroke-width="0.5"/>
<polygon points="625.0,206.3 626.0,210.2 617.6,219.4 618.6,209.2" fill="#1cc41c"/>
<polygon points="645.0,206.3 662.9,206.3 664.0,210.2 654.5,219.4 646.5,211.8" fill="#2ee82e" stroke="#129c12" stroke-width="0.5"/>
<polygon points="662.9,206.3 664.0,210.2 654.5,219.4 655.6,209.2" fill="#1cc41c"/>
<polygon points="444.6,243.0 455.0,253.1 454.2,257.4 436.9,257.4 436.0,252.8" fill="#2ee82e" stroke="#129c12" stroke-width="0.5"/>
<polygon points="444.6,243.0 455.0,253.1 454.2,257.4 445.9,257.4" fill="#1cc41c"/>
<polygon points="510.5,242.0 519.6,252.8 518.9,257.4 503.8,257.4 503.0,252.5" fill="#2ee82e" stroke="#129c12" stroke-width="0.5"/>
<polygon points="510.5,242.0 519.6,252.8 518.9,257.4 511.6,257.4" fill="#1cc41c"/>
<polygon points="524.1,243.0 532.7,253.1 532.1,257.4 517.8,257.4 517.0,252.8" fill="#2ee82e" stroke="#129c12" stroke-width="0.5"/>
<polygon points="524.1,243.0 532.7,253.1 532.1,257.4 525.2,257.4" fill="#1cc41c"/>
<polygon points="588.7,242.0 597.3,252.8 596.7,257.4 582.5,257.4 581.7,252.5" fill="#2ee82e" stroke="#129c12" stroke-width="0.5"/>
<polygon points="588.7,242.0 597.3,252.8 596.7,257.4 589.8,257.4" fill="#1cc41c"/>
<polygon points="603.0,243.0 611.6,253.1 611.0,257.4 596.8,257.4 596.0,252.8" fill="#2ee82e" stroke="#129c12" stroke-width="0.5"/>
<polygon points="603.0,243.0 611.6,253.1 611.0,257.4 604.1,257.4" fill="#1cc41c"/>
<polygon points="667.5,243.0 677.3,252.2 676.6,256.2 660.3,256.2 659.4,252.0" fill="#2ee82e" stroke="#129c12" stroke-width="0.5"/>
<polygon points="667.5,243.0 677.3,252.2 676.6,256.2 668.7,256.2" fill="#1cc41c"/>
<line x1="557.2" y1="86.6" x2="557.2" y2="149.6" stroke="#c04444" stroke-width="0.7"/>
<line x1="569.4" y1="101" x2="569.4" y2="144" stroke="#c04444" stroke-width="0.7"/>
<line x1="534.4" y1="132.4" x2="573" y2="132.4" stroke="#c04444" stroke-width="0.7"/>
<text x="541" y="130" font-family="Liberation Serif" font-weight="bold" font-size="6.4" fill="#1a1a1a" textLength="14.4" lengthAdjust="spacingAndGlyphs">11.5 Å</text>
<text transform="translate(552.5,97.7) rotate(90)" font-family="Liberation Serif" font-weight="bold" font-size="7.2" fill="#1a1a1a" textLength="18.8" lengthAdjust="spacingAndGlyphs">18.9 Å</text>
<text transform="translate(570.5,109.4) rotate(90)" font-family="Liberation Serif" font-weight="bold" font-size="7.2" fill="#1a1a1a" textLength="19.2" lengthAdjust="spacingAndGlyphs">12.9 Å</text>
</g>
<g id="mol">
<polygon points="45.2,22.2 59.4,30.2 59.4,46.3 45.2,54.3 31.0,46.3 31.0,30.2" fill="#22e622" stroke="#139413" stroke-width="1.1"/>
<line x1="45.8" y1="25.4" x2="56.3" y2="31.3" stroke="#139413" stroke-width="1"/>
<line x1="56.3" y1="45.2" x2="45.8" y2="51.1" stroke="#139413" stroke-width="1"/>
<line x1="33.5" y1="44.2" x2="33.5" y2="32.3" stroke="#139413" stroke-width="1"/>
<polygon points="103.4,22.2 117.7,30.2 117.7,46.3 103.4,54.3 89.1,46.3 89.1,30.2" fill="#22e622" stroke="#139413" stroke-width="1.1"/>
<line x1="104.0" y1="25.4" x2="114.6" y2="31.3" stroke="#139413" stroke-width="1"/>
<line x1="114.6" y1="45.2" x2="104.0" y2="51.1" stroke="#139413" stroke-width="1"/>
<line x1="91.6" y1="44.2" x2="91.6" y2="32.3" stroke="#139413" stroke-width="1"/>
<text x="73.5" y="26.3" text-anchor="middle" font-family="Liberation Sans" font-size="11.5" fill="#d42a2a">O</text>
<line x1="59.4" y1="30.2" x2="68.8" y2="25.3" stroke="#333" stroke-width="0.9"/>
<line x1="79.0" y1="25.3" x2="89.1" y2="30.2" stroke="#333" stroke-width="0.9"/>
<text x="71.2" y="78.2" text-anchor="middle" font-family="Liberation Sans" font-weight="bold" font-size="12.2" fill="#111">1</text>
<polygon points="172.2,17.7 186.6,25.8 186.6,42.0 172.2,50.1 157.8,42.0 157.8,25.8" fill="#22e622" stroke="#139413" stroke-width="1.1"/>
<line x1="172.8" y1="20.9" x2="183.5" y2="26.9" stroke="#139413" stroke-width="1"/>
<line x1="183.5" y1="40.9" x2="172.8" y2="46.9" stroke="#139413" stroke-width="1"/>
<line x1="160.2" y1="39.9" x2="160.2" y2="27.9" stroke="#139413" stroke-width="1"/>
<text x="144.0" y="22.9" text-anchor="middle" font-family="Liberation Sans" font-size="11.5" fill="#d42a2a">O</text>
<text x="200.5" y="22.9" text-anchor="middle" font-family="Liberation Sans" font-size="11.5" fill="#d42a2a">O</text>
<line x1="157.8" y1="25.8" x2="148.5" y2="21.5" stroke="#333" stroke-width="0.9"/>
<line x1="139.6" y1="21.6" x2="129.6" y2="27.0" stroke="#333" stroke-width="0.9"/>
<line x1="186.6" y1="25.8" x2="196.0" y2="21.5" stroke="#333" stroke-width="0.9"/>
<line x1="205.0" y1="21.6" x2="215.2" y2="27.0" stroke="#333" stroke-width="0.9"/>
<text x="170.1" y="79.8" text-anchor="middle" font-family="Liberation Sans" font-weight="bold" font-size="12.2" fill="#111">2</text>
<polygon points="275.6,19.1 289.9,27.4 289.9,44.0 275.6,52.3 261.4,44.0 261.4,27.4" fill="#22e622" stroke="#139413" stroke-width="1.1"/>
<line x1="276.2" y1="22.3" x2="286.8" y2="28.5" stroke="#139413" stroke-width="1"/>
<line x1="286.8" y1="42.9" x2="276.2" y2="49.1" stroke="#139413" stroke-width="1"/>
<line x1="263.9" y1="41.8" x2="263.9" y2="29.6" stroke="#139413" stroke-width="1"/>
<text x="242.2" y="23.9" text-anchor="middle" font-family="Liberation Sans" font-size="11.5" fill="#111">Br</text>
<text x="305.8" y="23.9" text-anchor="middle" font-family="Liberation Sans" font-size="11.5" fill="#111">Br</text>
<line x1="261.4" y1="27.4" x2="249.0" y2="22.5" stroke="#333" stroke-width="0.9"/>
<line x1="289.9" y1="27.4" x2="299.0" y2="22.5" stroke="#333" stroke-width="0.9"/>
<text x="276.7" y="76.2" text-anchor="middle" font-family="Liberation Sans" font-weight="bold" font-size="12.2" fill="#111">3</text>
<polygon points="364.6,17.2 378.9,25.2 378.9,41.2 364.6,49.2 350.4,41.2 350.4,25.2" fill="#22e622" stroke="#139413" stroke-width="1.1"/>
<line x1="365.2" y1="20.4" x2="375.7" y2="26.3" stroke="#139413" stroke-width="1"/>
<line x1="375.7" y1="40.1" x2="365.2" y2="46.0" stroke="#139413" stroke-width="1"/>
<line x1="352.9" y1="39.1" x2="352.9" y2="27.3" stroke="#139413" stroke-width="1"/>
<text x="334.6" y="21.3" text-anchor="middle" font-family="Liberation Sans" font-size="11.5" fill="#d42a2a">O</text>
<text x="334.6" y="53.3" text-anchor="middle" font-family="Liberation Sans" font-size="11.5" fill="#d42a2a">O</text>
<line x1="350.4" y1="25.2" x2="339.0" y2="19.8" stroke="#333" stroke-width="0.9"/>
<line x1="330.2" y1="19.8" x2="320.9" y2="24.6" stroke="#333" stroke-width="0.9"/>
<line x1="350.4" y1="41.2" x2="339.0" y2="46.6" stroke="#333" stroke-width="0.9"/>
<line x1="330.2" y1="46.6" x2="320.9" y2="41.3" stroke="#333" stroke-width="0.9"/>
<line x1="378.9" y1="41.2" x2="388.0" y2="46.5" stroke="#333" stroke-width="0.9"/>
<text x="396.2" y="53.3" text-anchor="middle" font-family="Liberation Sans" font-size="11.5" fill="#d42a2a">OH</text>
<text x="362.2" y="71.3" text-anchor="middle" font-family="Liberation Sans" font-weight="bold" font-size="12.2" fill="#111">4</text>
<polygon points="68.5,123.9 82.7,132.2 82.7,148.7 68.5,156.9 54.4,148.7 54.4,132.2" fill="#22e622" stroke="#139413" stroke-width="1.1"/>
<line x1="69.1" y1="127.1" x2="79.6" y2="133.2" stroke="#139413" stroke-width="1"/>
<line x1="79.6" y1="147.6" x2="69.1" y2="153.7" stroke="#139413" stroke-width="1"/>
<line x1="56.9" y1="146.5" x2="56.9" y2="134.3" stroke="#139413" stroke-width="1"/>
<text x="40.3" y="128.5" text-anchor="middle" font-family="Liberation Sans" font-size="11.5" fill="#d42a2a">O</text>
<line x1="54.4" y1="132.2" x2="44.8" y2="127.0" stroke="#333" stroke-width="0.9"/>
<line x1="35.8" y1="127.0" x2="26.0" y2="133.0" stroke="#333" stroke-width="0.9"/>
<text x="97.4" y="161.0" text-anchor="middle" font-family="Liberation Sans" font-size="11.5" fill="#d42a2a">O</text>
<line x1="82.7" y1="148.7" x2="93.0" y2="154.3" stroke="#333" stroke-width="0.9"/>
<line x1="101.8" y1="154.3" x2="108.4" y2="150.2" stroke="#333" stroke-width="0.9"/>
<text x="67.9" y="189.1" text-anchor="middle" font-family="Liberation Sans" font-weight="bold" font-size="12.2" fill="#111">5</text>
<line x1="112.5" y1="144.4" x2="125.8" y2="136.9" stroke="#333" stroke-width="0.9"/>
<line x1="125.8" y1="136.9" x2="125.8" y2="123.5" stroke="#333" stroke-width="0.9"/>
<line x1="123.2" y1="136.9" x2="123.2" y2="123.5" stroke="#333" stroke-width="0.9"/>
<text x="125.8" y="123.4" text-anchor="middle" font-family="Liberation Sans" font-size="11.5" fill="#d42a2a">O</text>
<line x1="125.8" y1="136.9" x2="135.2" y2="142.0" stroke="#333" stroke-width="0.9"/>
<text x="138.8" y="146.7" text-anchor="middle" font-family="Liberation Sans" font-size="11.5" fill="#d42a2a">O</text>
<polygon points="168.2,111.8 182.5,119.9 182.5,136.2 168.2,144.4 153.9,136.2 153.9,119.9" fill="#22e622" stroke="#139413" stroke-width="1.1"/>
<line x1="152.1" y1="137.5" x2="151.8" y2="136.8" stroke="#222" stroke-width="0.8"/>
<line x1="150.3" y1="138.7" x2="149.7" y2="137.4" stroke="#222" stroke-width="0.8"/>
<line x1="148.4" y1="139.9" x2="147.6" y2="138.0" stroke="#222" stroke-width="0.8"/>
<line x1="146.6" y1="141.1" x2="145.5" y2="138.6" stroke="#222" stroke-width="0.8"/>
<line x1="144.8" y1="142.3" x2="143.4" y2="139.2" stroke="#222" stroke-width="0.8"/>
<line x1="167.9" y1="109.1" x2="168.5" y2="109.1" stroke="#222" stroke-width="0.8"/>
<line x1="167.6" y1="106.5" x2="168.8" y2="106.5" stroke="#222" stroke-width="0.8"/>
<line x1="167.3" y1="103.8" x2="169.1" y2="103.8" stroke="#222" stroke-width="0.8"/>
<line x1="167.1" y1="101.1" x2="169.3" y2="101.1" stroke="#222" stroke-width="0.8"/>
<line x1="166.8" y1="98.5" x2="169.6" y2="98.5" stroke="#222" stroke-width="0.8"/>
<line x1="166.5" y1="95.8" x2="169.9" y2="95.8" stroke="#222" stroke-width="0.8"/>
<polygon points="168.2,144.4 166.5,160.7 169.9,160.7" fill="#111"/>
<line x1="168.2" y1="160.7" x2="154.6" y2="168.7" stroke="#333" stroke-width="0.9"/>
<line x1="168.2" y1="160.7" x2="183.2" y2="168.7" stroke="#333" stroke-width="0.9"/>
<text x="168.2" y="183.9" text-anchor="middle" font-family="Liberation Sans" font-weight="bold" font-size="12.2" fill="#111">5</text>
<line x1="190.3" y1="94" x2="190.3" y2="174.5" stroke="#555" stroke-width="0.9" stroke-dasharray="4,3"/>
<line x1="329.2" y1="94" x2="329.2" y2="174.5" stroke="#555" stroke-width="0.9" stroke-dasharray="4,3"/>
<polygon points="250.6,113.6 264.8,121.7 264.8,138.0 250.6,146.1 236.4,138.0 236.4,121.7" fill="#f4824a" stroke="#333" stroke-width="1.1"/>
<line x1="236.4" y1="121.7" x2="236.4" y2="138.0" stroke="#111" stroke-width="2.6"/>
<polygon points="250.6,113.6 252.4,97.5 249.0,97.5" fill="#111"/>
<line x1="250.9" y1="148.6" x2="250.3" y2="148.6" stroke="#222" stroke-width="0.8"/>
<line x1="251.2" y1="151.1" x2="250.1" y2="151.2" stroke="#222" stroke-width="0.8"/>
<line x1="251.5" y1="153.7" x2="249.8" y2="153.7" stroke="#222" stroke-width="0.8"/>
<line x1="251.8" y1="156.2" x2="249.5" y2="156.2" stroke="#222" stroke-width="0.8"/>
<line x1="252.1" y1="158.7" x2="249.3" y2="158.7" stroke="#222" stroke-width="0.8"/>
<line x1="252.4" y1="161.2" x2="249.0" y2="161.3" stroke="#222" stroke-width="0.8"/>
<line x1="250.7" y1="162.0" x2="236.4" y2="170.7" stroke="#333" stroke-width="0.9"/>
<line x1="250.7" y1="162.0" x2="264.7" y2="170.7" stroke="#333" stroke-width="0.9"/>
<polygon points="236.4,138.0 225.1,142.2 226.9,145.4" fill="#111"/>
<text x="222.1" y="149.7" text-anchor="middle" font-family="Liberation Sans" font-size="11.5" fill="#d42a2a">O</text>
<line x1="218.5" y1="143.6" x2="208.0" y2="138.1" stroke="#333" stroke-width="0.9"/>
<line x1="208.0" y1="138.1" x2="208.0" y2="124.5" stroke="#333" stroke-width="0.9"/>
<line x1="205.4" y1="138.1" x2="205.4" y2="124.5" stroke="#333" stroke-width="0.9"/>
<text x="208.0" y="124.7" text-anchor="middle" font-family="Liberation Sans" font-size="11.5" fill="#d42a2a">O</text>
<line x1="208.0" y1="138.1" x2="193.8" y2="146.1" stroke="#333" stroke-width="0.9"/>
<text x="250.7" y="188.9" text-anchor="middle" font-family="Liberation Sans" font-weight="bold" font-size="12.2" fill="#111">6</text>
<polygon points="305.0,109.4 319.4,117.4 319.4,133.4 305.0,141.4 290.6,133.4 290.6,117.4" fill="#22e622" stroke="#139413" stroke-width="1.1"/>
<line x1="305.6" y1="112.6" x2="316.2" y2="118.5" stroke="#139413" stroke-width="1"/>
<line x1="305.0" y1="109.4" x2="305.1" y2="91.8" stroke="#333" stroke-width="0.9"/>
<line x1="290.6" y1="117.4" x2="280.5" y2="110.0" stroke="#333" stroke-width="0.9"/>
<line x1="288.6" y1="119.1" x2="279.5" y2="112.5" stroke="#333" stroke-width="0.9"/>
<text x="276.3" y="111.6" text-anchor="middle" font-family="Liberation Sans" font-size="11.5" fill="#d42a2a">O</text>
<polygon points="305.0,141.4 303.4,158.2 306.8,158.2" fill="#111"/>
<line x1="305.1" y1="158.2" x2="290.6" y2="166.2" stroke="#333" stroke-width="0.9"/>
<line x1="305.1" y1="158.2" x2="319.4" y2="166.2" stroke="#333" stroke-width="0.9"/>
<line x1="305.3" y1="161.3" x2="316.7" y2="167.7" stroke="#333" stroke-width="0.9"/>
<text x="303.1" y="185.6" text-anchor="middle" font-family="Liberation Sans" font-weight="bold" font-size="12.2" fill="#111">7</text>
<polygon points="366.4,109.3 380.7,117.3 380.7,133.3 366.4,141.3 352.1,133.3 352.1,117.3" fill="#f4824a" stroke="#333" stroke-width="1.1"/>
<line x1="367.0" y1="112.5" x2="377.6" y2="118.4" stroke="#333" stroke-width="1"/>
<line x1="366.4" y1="109.3" x2="366.4" y2="91.8" stroke="#333" stroke-width="0.9"/>
<line x1="352.1" y1="117.3" x2="341.5" y2="109.5" stroke="#333" stroke-width="0.9"/>
<line x1="350.0" y1="119.0" x2="340.5" y2="112.0" stroke="#333" stroke-width="0.9"/>
<text x="337.5" y="110.9" text-anchor="middle" font-family="Liberation Sans" font-size="11.5" fill="#d42a2a">O</text>
<line x1="366.7" y1="144.0" x2="366.1" y2="144.0" stroke="#222" stroke-width="0.8"/>
<line x1="367.0" y1="146.7" x2="365.8" y2="146.7" stroke="#222" stroke-width="0.8"/>
<line x1="367.3" y1="149.3" x2="365.5" y2="149.3" stroke="#222" stroke-width="0.8"/>
<line x1="367.5" y1="152.0" x2="365.3" y2="152.0" stroke="#222" stroke-width="0.8"/>
<line x1="367.8" y1="154.7" x2="365.0" y2="154.7" stroke="#222" stroke-width="0.8"/>
<line x1="368.1" y1="157.4" x2="364.7" y2="157.4" stroke="#222" stroke-width="0.8"/>
<line x1="366.4" y1="158.2" x2="352.1" y2="165.2" stroke="#333" stroke-width="0.9"/>
<line x1="366.4" y1="158.2" x2="380.7" y2="165.2" stroke="#333" stroke-width="0.9"/>
<line x1="366.7" y1="161.2" x2="378.1" y2="166.8" stroke="#333" stroke-width="0.9"/>
<text x="365.9" y="186.4" text-anchor="middle" font-family="Liberation Sans" font-weight="bold" font-size="12.2" fill="#111">8</text>
<polygon points="38.8,218.9 53.8,227.3 53.8,244.1 38.8,252.5 23.8,244.1 23.8,227.3" fill="#22e622" stroke="#139413" stroke-width="1.1"/>
<line x1="39.5" y1="222.1" x2="50.5" y2="228.4" stroke="#139413" stroke-width="1"/>
<line x1="50.5" y1="243.0" x2="39.5" y2="249.3" stroke="#139413" stroke-width="1"/>
<line x1="26.3" y1="241.9" x2="26.3" y2="229.5" stroke="#139413" stroke-width="1"/>
<line x1="53.8" y1="244.1" x2="67.0" y2="252.0" stroke="#333" stroke-width="0.9"/>
<line x1="67.0" y1="252.0" x2="81.4" y2="242.6" stroke="#333" stroke-width="0.9"/>
<line x1="70.7" y1="252.9" x2="80.8" y2="246.4" stroke="#333" stroke-width="0.9"/>
<line x1="81.4" y1="242.6" x2="95.8" y2="251.4" stroke="#333" stroke-width="0.9"/>
<line x1="95.8" y1="251.4" x2="105.0" y2="245.5" stroke="#333" stroke-width="0.9"/>
<line x1="97.2" y1="253.6" x2="106.4" y2="247.7" stroke="#333" stroke-width="0.9"/>
<text x="109.0" y="247.3" text-anchor="middle" font-family="Liberation Sans" font-size="11.5" fill="#d42a2a">O</text>
<text x="65.4" y="275.7" text-anchor="middle" font-family="Liberation Sans" font-weight="bold" font-size="12.2" fill="#111">10</text>
<polygon points="139.7,220.0 154.2,228.3 154.2,245.0 139.7,253.4 125.2,245.0 125.2,228.3" fill="#22e622" stroke="#139413" stroke-width="1.1"/>
<line x1="140.3" y1="223.2" x2="151.1" y2="229.4" stroke="#139413" stroke-width="1"/>
<line x1="151.1" y1="244.0" x2="140.3" y2="250.2" stroke="#139413" stroke-width="1"/>
<line x1="127.7" y1="242.9" x2="127.7" y2="230.5" stroke="#139413" stroke-width="1"/>
<line x1="154.2" y1="228.3" x2="167.7" y2="220.0" stroke="#333" stroke-width="0.9"/>
<line x1="167.7" y1="220.0" x2="167.7" y2="207.5" stroke="#333" stroke-width="0.9"/>
<line x1="165.1" y1="220.0" x2="165.1" y2="207.5" stroke="#333" stroke-width="0.9"/>
<text x="167.7" y="207.6" text-anchor="middle" font-family="Liberation Sans" font-size="11.5" fill="#d42a2a">O</text>
<line x1="167.7" y1="220.0" x2="177.5" y2="225.8" stroke="#333" stroke-width="0.9"/>
<text x="181.3" y="232.2" text-anchor="middle" font-family="Liberation Sans" font-size="11.5" fill="#d42a2a">O</text>
<line x1="185.0" y1="225.8" x2="196.0" y2="219.5" stroke="#333" stroke-width="0.9"/>
<line x1="196.0" y1="219.5" x2="209.5" y2="228.3" stroke="#333" stroke-width="0.9"/>
<polygon points="224.3,220.0 239.1,228.3 239.1,245.0 224.3,253.4 209.6,245.0 209.6,228.3" fill="#22e622" stroke="#139413" stroke-width="1.1"/>
<line x1="224.9" y1="223.2" x2="235.9" y2="229.4" stroke="#139413" stroke-width="1"/>
<line x1="235.9" y1="244.0" x2="224.9" y2="250.2" stroke="#139413" stroke-width="1"/>
<line x1="212.1" y1="242.9" x2="212.1" y2="230.5" stroke="#139413" stroke-width="1"/>
<line x1="154.2" y1="245.0" x2="162.5" y2="249.5" stroke="#333" stroke-width="0.9"/>
<text x="171.6" y="256.0" text-anchor="middle" font-family="Liberation Sans" font-size="11.5" fill="#d42a2a">OH</text>
<text x="168.2" y="277.9" text-anchor="middle" font-family="Liberation Sans" font-weight="bold" font-size="12.2" fill="#111">11</text>
<polygon points="296.7,216.0 310.8,224.0 310.8,240.0 296.7,248.0 282.6,240.0 282.6,224.0" fill="#22e622" stroke="#139413" stroke-width="1.1"/>
<line x1="297.3" y1="219.2" x2="307.7" y2="225.1" stroke="#139413" stroke-width="1"/>
<line x1="307.7" y1="238.9" x2="297.3" y2="244.8" stroke="#139413" stroke-width="1"/>
<line x1="285.1" y1="237.9" x2="285.1" y2="226.1" stroke="#139413" stroke-width="1"/>
<text x="266.6" y="220.1" text-anchor="middle" font-family="Liberation Sans" font-size="11.5" fill="#d42a2a">O</text>
<text x="266.6" y="252.1" text-anchor="middle" font-family="Liberation Sans" font-size="11.5" fill="#d42a2a">O</text>
<line x1="282.6" y1="224.0" x2="271.0" y2="218.6" stroke="#333" stroke-width="0.9"/>
<line x1="262.2" y1="218.6" x2="253.3" y2="223.3" stroke="#333" stroke-width="0.9"/>
<line x1="282.6" y1="240.0" x2="271.0" y2="245.4" stroke="#333" stroke-width="0.9"/>
<line x1="262.2" y1="245.4" x2="253.3" y2="240.3" stroke="#333" stroke-width="0.9"/>
<line x1="310.8" y1="240.0" x2="325.1" y2="248.0" stroke="#333" stroke-width="0.9"/>
<line x1="325.1" y1="248.0" x2="333.5" y2="243.0" stroke="#333" stroke-width="0.9"/>
<text x="342.0" y="244.4" text-anchor="middle" font-family="Liberation Sans" font-size="11.5" fill="#d42a2a">OH</text>
<text x="295.3" y="272.4" text-anchor="middle" font-family="Liberation Sans" font-weight="bold" font-size="12.2" fill="#111">12</text>
<polygon points="67.2,307.6 81.4,315.8 81.4,332.0 67.2,340.1 53.1,332.0 53.1,315.8" fill="#22e622" stroke="#139413" stroke-width="1.1"/>
<line x1="67.8" y1="310.9" x2="78.3" y2="316.9" stroke="#139413" stroke-width="1"/>
<line x1="78.3" y1="330.9" x2="67.8" y2="336.9" stroke="#139413" stroke-width="1"/>
<line x1="55.6" y1="329.9" x2="55.6" y2="317.9" stroke="#139413" stroke-width="1"/>
<text x="38.9" y="311.1" text-anchor="middle" font-family="Liberation Sans" font-size="11.5" fill="#d42a2a">O</text>
<line x1="53.1" y1="315.8" x2="43.0" y2="309.5" stroke="#333" stroke-width="0.9"/>
<line x1="38.9" y1="302.5" x2="38.9" y2="290.0" stroke="#333" stroke-width="0.9"/>
<line x1="53.1" y1="332.0" x2="45.0" y2="337.5" stroke="#333" stroke-width="0.9"/>
<text x="35.0" y="344.2" text-anchor="middle" font-family="Liberation Sans" font-size="11.5" fill="#d42a2a">HO</text>
<line x1="81.4" y1="315.8" x2="95.7" y2="307.6" stroke="#333" stroke-width="0.9"/>
<line x1="95.7" y1="307.6" x2="110.0" y2="315.4" stroke="#333" stroke-width="0.9"/>
<line x1="110.0" y1="315.4" x2="124.4" y2="306.5" stroke="#333" stroke-width="0.9"/>
<line x1="113.6" y1="316.4" x2="123.7" y2="310.2" stroke="#333" stroke-width="0.9"/>
<text x="66.3" y="361.7" text-anchor="middle" font-family="Liberation Sans" font-weight="bold" font-size="12.2" fill="#111">13</text>
<text x="150.1" y="300.4" text-anchor="middle" font-family="Liberation Sans" font-size="11.5" fill="#d42a2a">O</text>
<line x1="150.1" y1="312.7" x2="150.1" y2="300.5" stroke="#333" stroke-width="0.9"/>
<line x1="147.5" y1="312.7" x2="147.5" y2="300.5" stroke="#333" stroke-width="0.9"/>
<line x1="150.1" y1="312.7" x2="136.4" y2="321.3" stroke="#333" stroke-width="0.9"/>
<line x1="150.1" y1="312.7" x2="159.2" y2="318.2" stroke="#333" stroke-width="0.9"/>
<text x="166.0" y="325.4" text-anchor="middle" font-family="Liberation Sans" font-size="11.5" fill="#111">Cl</text>
<line x1="129.0" y1="333.7" x2="168.0" y2="333.7" stroke="#111" stroke-width="1.0"/>
<polygon points="176.8,333.7 166.0,330.9 166.0,336.5" fill="#111"/>
<polygon points="244.9,311.0 259.5,319.0 259.5,335.0 244.9,343.0 230.3,335.0 230.3,319.0" fill="#22e622" stroke="#139413" stroke-width="1.1"/>
<line x1="245.5" y1="314.2" x2="256.3" y2="320.1" stroke="#139413" stroke-width="1"/>
<line x1="256.3" y1="333.9" x2="245.5" y2="339.8" stroke="#139413" stroke-width="1"/>
<line x1="232.8" y1="332.9" x2="232.8" y2="321.1" stroke="#139413" stroke-width="1"/>
<text x="216.6" y="315.1" text-anchor="middle" font-family="Liberation Sans" font-size="11.5" fill="#d42a2a">O</text>
<line x1="230.3" y1="319.0" x2="220.8" y2="313.5" stroke="#333" stroke-width="0.9"/>
<line x1="216.6" y1="306.5" x2="216.6" y2="293.3" stroke="#333" stroke-width="0.9"/>
<line x1="230.3" y1="335.0" x2="220.0" y2="341.8" stroke="#333" stroke-width="0.9"/>
<text x="215.9" y="348.3" text-anchor="middle" font-family="Liberation Sans" font-size="11.5" fill="#d42a2a">O</text>
<line x1="211.8" y1="341.8" x2="202.0" y2="337.1" stroke="#333" stroke-width="0.9"/>
<line x1="202.0" y1="337.1" x2="202.0" y2="325.0" stroke="#333" stroke-width="0.9"/>
<line x1="199.4" y1="337.1" x2="199.4" y2="325.0" stroke="#333" stroke-width="0.9"/>
<text x="202.0" y="325.0" text-anchor="middle" font-family="Liberation Sans" font-size="11.5" fill="#d42a2a">O</text>
<line x1="202.0" y1="337.1" x2="188.3" y2="344.6" stroke="#333" stroke-width="0.9"/>
<line x1="259.5" y1="319.0" x2="272.3" y2="312.7" stroke="#333" stroke-width="0.9"/>
<line x1="272.3" y1="312.7" x2="287.8" y2="320.3" stroke="#333" stroke-width="0.9"/>
<line x1="287.8" y1="320.3" x2="301.5" y2="311.4" stroke="#333" stroke-width="0.9"/>
<line x1="291.4" y1="321.3" x2="301.0" y2="315.1" stroke="#333" stroke-width="0.9"/>
<text x="243.6" y="366.7" text-anchor="middle" font-family="Liberation Sans" font-weight="bold" font-size="12.2" fill="#111">14</text>
</g>
<g id="hex">
<polygon points="784.8,5.4 848.9,42.5 848.9,119.0 784.8,156.1 720.6,119.0 720.6,42.5" fill="#a9de1c" stroke="#000" stroke-width="3.1" stroke-linejoin="miter"/>
<polygon points="784.1,34.0 823.3,56.6 823.3,105.4 784.1,128.0 744.9,105.4 744.9,56.6" fill="#fff200" stroke="#000" stroke-width="3.1" stroke-linejoin="miter"/>
<line x1="784.5" y1="6.9" x2="784.5" y2="154.6" stroke="#0f4a30" stroke-width="1" stroke-dasharray="1,1.2"/>
<line x1="722.1" y1="81.4" x2="847.4" y2="82.5" stroke="#0f4a30" stroke-width="1" stroke-dasharray="1,1.2"/>
<ellipse cx="731.9" cy="61.0" rx="8.3" ry="10.8" fill="#bccd2c" stroke="#4d5a0a" stroke-width="0.9"/>
<text x="731.9" y="65.2" text-anchor="middle" font-family="Liberation Sans" font-weight="bold" font-size="13.2" fill="#2b2205" stroke="#2b2205" stroke-width="0.35">A</text>
<ellipse cx="836.6" cy="64.4" rx="8.3" ry="10.8" fill="#bccd2c" stroke="#4d5a0a" stroke-width="0.9"/>
<text x="836.6" y="68.6" text-anchor="middle" font-family="Liberation Sans" font-weight="bold" font-size="13.2" fill="#2b2205" stroke="#2b2205" stroke-width="0.35">C</text>
<ellipse cx="773.5" cy="106.7" rx="8.3" ry="10.8" fill="#f2c81c" stroke="#6e5c08" stroke-width="0.9"/>
<text x="773.5" y="110.9" text-anchor="middle" font-family="Liberation Sans" font-weight="bold" font-size="13.2" fill="#2b2205" stroke="#2b2205" stroke-width="0.35">G</text>
<ellipse cx="794.2" cy="105.7" rx="8.3" ry="10.8" fill="#f2c81c" stroke="#6e5c08" stroke-width="0.9"/>
<text x="794.2" y="109.9" text-anchor="middle" font-family="Liberation Sans" font-weight="bold" font-size="13.2" fill="#2b2205" stroke="#2b2205" stroke-width="0.35">H</text>
<polygon points="923.2,3.8 987.5,40.8 987.5,117.0 923.2,154.0 858.9,117.0 858.9,40.8" fill="#a9de1c" stroke="#000" stroke-width="3.1" stroke-linejoin="miter"/>
<polygon points="921.9,32.4 961.0,54.7 961.0,103.2 921.9,125.5 882.8,103.2 882.8,54.7" fill="#fff200" stroke="#000" stroke-width="3.1" stroke-linejoin="miter"/>
<line x1="922.9" y1="5.3" x2="922.9" y2="152.5" stroke="#0f4a30" stroke-width="1" stroke-dasharray="1,1.2"/>
<line x1="860.4" y1="78.5" x2="986.0" y2="81.0" stroke="#0f4a30" stroke-width="1" stroke-dasharray="1,1.2"/>
<ellipse cx="869.6" cy="59.8" rx="8.3" ry="10.8" fill="#bccd2c" stroke="#4d5a0a" stroke-width="0.9"/>
<text x="869.6" y="64.0" text-anchor="middle" font-family="Liberation Sans" font-weight="bold" font-size="13.2" fill="#2b2205" stroke="#2b2205" stroke-width="0.35">A</text>
<ellipse cx="869.6" cy="100.7" rx="8.3" ry="10.8" fill="#bccd2c" stroke="#4d5a0a" stroke-width="0.9"/>
<text x="869.6" y="104.9" text-anchor="middle" font-family="Liberation Sans" font-weight="bold" font-size="13.2" fill="#2b2205" stroke="#2b2205" stroke-width="0.35">B</text>
<ellipse cx="975.4" cy="61.6" rx="8.3" ry="10.8" fill="#bccd2c" stroke="#4d5a0a" stroke-width="0.9"/>
<text x="975.4" y="65.8" text-anchor="middle" font-family="Liberation Sans" font-weight="bold" font-size="13.2" fill="#2b2205" stroke="#2b2205" stroke-width="0.35">C</text>
<ellipse cx="975.3" cy="100.0" rx="8.3" ry="10.8" fill="#bccd2c" stroke="#4d5a0a" stroke-width="0.9"/>
<text x="975.3" y="104.2" text-anchor="middle" font-family="Liberation Sans" font-weight="bold" font-size="13.2" fill="#2b2205" stroke="#2b2205" stroke-width="0.35">D</text>
<ellipse cx="913.2" cy="53.5" rx="8.3" ry="10.8" fill="#f2c81c" stroke="#6e5c08" stroke-width="0.9"/>
<text x="913.2" y="57.7" text-anchor="middle" font-family="Liberation Sans" font-weight="bold" font-size="13.2" fill="#2b2205" stroke="#2b2205" stroke-width="0.35">E</text>
<ellipse cx="932.5" cy="54.2" rx="8.3" ry="10.8" fill="#f2c81c" stroke="#6e5c08" stroke-width="0.9"/>
<text x="932.5" y="58.4" text-anchor="middle" font-family="Liberation Sans" font-weight="bold" font-size="13.2" fill="#2b2205" stroke="#2b2205" stroke-width="0.35">F</text>
<ellipse cx="911.9" cy="103.8" rx="8.3" ry="10.8" fill="#f2c81c" stroke="#6e5c08" stroke-width="0.9"/>
<text x="911.9" y="108.0" text-anchor="middle" font-family="Liberation Sans" font-weight="bold" font-size="13.2" fill="#2b2205" stroke="#2b2205" stroke-width="0.35">G</text>
<ellipse cx="933.1" cy="102.7" rx="8.3" ry="10.8" fill="#f2c81c" stroke="#6e5c08" stroke-width="0.9"/>
<text x="933.1" y="106.9" text-anchor="middle" font-family="Liberation Sans" font-weight="bold" font-size="13.2" fill="#2b2205" stroke="#2b2205" stroke-width="0.35">H</text>
<polygon points="1058.7,4.2 1122.9,41.2 1122.9,117.4 1058.7,154.4 994.5,117.4 994.5,41.2" fill="#a9de1c" stroke="#000" stroke-width="3.1" stroke-linejoin="miter"/>
<polygon points="1058.0,33.4 1097.2,55.5 1097.2,103.4 1058.0,125.5 1018.8,103.4 1018.8,55.5" fill="#fff200" stroke="#000" stroke-width="3.1" stroke-linejoin="miter"/>
<line x1="1058.4" y1="5.7" x2="1058.4" y2="152.9" stroke="#0f4a30" stroke-width="1" stroke-dasharray="1,1.2"/>
<line x1="996.0" y1="79.1" x2="1121.4" y2="81.0" stroke="#0f4a30" stroke-width="1" stroke-dasharray="1,1.2"/>
<ellipse cx="1007.8" cy="53.6" rx="8.3" ry="10.8" fill="#bccd2c" stroke="#4d5a0a" stroke-width="0.9"/>
<text x="1007.8" y="57.8" text-anchor="middle" font-family="Liberation Sans" font-weight="bold" font-size="13.2" fill="#2b2205" stroke="#2b2205" stroke-width="0.35">A</text>
<ellipse cx="1111.2" cy="101.3" rx="8.3" ry="10.8" fill="#bccd2c" stroke="#4d5a0a" stroke-width="0.9"/>
<text x="1111.2" y="105.5" text-anchor="middle" font-family="Liberation Sans" font-weight="bold" font-size="13.2" fill="#2b2205" stroke="#2b2205" stroke-width="0.35">D</text>
<ellipse cx="1068.0" cy="104.4" rx="8.3" ry="10.8" fill="#f2c81c" stroke="#6e5c08" stroke-width="0.9"/>
<text x="1068.0" y="108.6" text-anchor="middle" font-family="Liberation Sans" font-weight="bold" font-size="13.2" fill="#2b2205" stroke="#2b2205" stroke-width="0.35">H</text>
<polygon points="849.2,188.9 913.4,225.9 913.4,301.8 849.2,338.8 785.0,301.8 785.0,225.9" fill="#a9de1c" stroke="#000" stroke-width="3.1" stroke-linejoin="miter"/>
<polygon points="847.5,217.7 886.3,240.1 886.3,288.8 847.5,311.2 808.7,288.8 808.7,240.1" fill="#fff200" stroke="#000" stroke-width="3.1" stroke-linejoin="miter"/>
<line x1="848.9" y1="190.4" x2="848.9" y2="337.3" stroke="#0f4a30" stroke-width="1" stroke-dasharray="1,1.2"/>
<line x1="786.5" y1="265.6" x2="911.9" y2="266.7" stroke="#0f4a30" stroke-width="1" stroke-dasharray="1,1.2"/>
<ellipse cx="795.6" cy="246.0" rx="8.3" ry="10.8" fill="#bccd2c" stroke="#4d5a0a" stroke-width="0.9"/>
<text x="795.6" y="250.2" text-anchor="middle" font-family="Liberation Sans" font-weight="bold" font-size="13.2" fill="#2b2205" stroke="#2b2205" stroke-width="0.35">A</text>
<ellipse cx="900.7" cy="246.9" rx="8.3" ry="10.8" fill="#bccd2c" stroke="#4d5a0a" stroke-width="0.9"/>
<text x="900.7" y="251.1" text-anchor="middle" font-family="Liberation Sans" font-weight="bold" font-size="13.2" fill="#2b2205" stroke="#2b2205" stroke-width="0.35">C</text>
<ellipse cx="900.7" cy="285.1" rx="8.3" ry="10.8" fill="#bccd2c" stroke="#4d5a0a" stroke-width="0.9"/>
<text x="900.7" y="289.3" text-anchor="middle" font-family="Liberation Sans" font-weight="bold" font-size="13.2" fill="#2b2205" stroke="#2b2205" stroke-width="0.35">D</text>
<ellipse cx="839.2" cy="238.7" rx="8.3" ry="10.8" fill="#f2c81c" stroke="#6e5c08" stroke-width="0.9"/>
<text x="839.2" y="242.9" text-anchor="middle" font-family="Liberation Sans" font-weight="bold" font-size="13.2" fill="#2b2205" stroke="#2b2205" stroke-width="0.35">E</text>
<ellipse cx="858.2" cy="239.6" rx="8.3" ry="10.8" fill="#f2c81c" stroke="#6e5c08" stroke-width="0.9"/>
<text x="858.2" y="243.8" text-anchor="middle" font-family="Liberation Sans" font-weight="bold" font-size="13.2" fill="#2b2205" stroke="#2b2205" stroke-width="0.35">F</text>
<ellipse cx="837.5" cy="288.8" rx="8.3" ry="10.8" fill="#f2c81c" stroke="#6e5c08" stroke-width="0.9"/>
<text x="837.5" y="293.0" text-anchor="middle" font-family="Liberation Sans" font-weight="bold" font-size="13.2" fill="#2b2205" stroke="#2b2205" stroke-width="0.35">G</text>
<ellipse cx="858.8" cy="287.8" rx="8.3" ry="10.8" fill="#f2c81c" stroke="#6e5c08" stroke-width="0.9"/>
<text x="858.8" y="292.0" text-anchor="middle" font-family="Liberation Sans" font-weight="bold" font-size="13.2" fill="#2b2205" stroke="#2b2205" stroke-width="0.35">H</text>
<polygon points="995.1,187.4 1059.2,224.1 1059.2,299.5 995.1,336.2 931.0,299.5 931.0,224.1" fill="#a9de1c" stroke="#000" stroke-width="3.1" stroke-linejoin="miter"/>
<polygon points="994.0,216.5 1033.3,238.9 1033.3,287.4 994.0,309.8 954.7,287.4 954.7,238.9" fill="#fff200" stroke="#000" stroke-width="3.1" stroke-linejoin="miter"/>
<line x1="994.8" y1="188.9" x2="994.8" y2="334.7" stroke="#0f4a30" stroke-width="1" stroke-dasharray="1,1.2"/>
<line x1="932.5" y1="263.4" x2="1057.7" y2="264.8" stroke="#0f4a30" stroke-width="1" stroke-dasharray="1,1.2"/>
<ellipse cx="942.0" cy="281.5" rx="8.3" ry="10.8" fill="#bccd2c" stroke="#4d5a0a" stroke-width="0.9"/>
<text x="942.0" y="285.7" text-anchor="middle" font-family="Liberation Sans" font-weight="bold" font-size="13.2" fill="#2b2205" stroke="#2b2205" stroke-width="0.35">B</text>
<ellipse cx="1046.7" cy="283.8" rx="8.3" ry="10.8" fill="#bccd2c" stroke="#4d5a0a" stroke-width="0.9"/>
<text x="1046.7" y="288.0" text-anchor="middle" font-family="Liberation Sans" font-weight="bold" font-size="13.2" fill="#2b2205" stroke="#2b2205" stroke-width="0.35">D</text>
<ellipse cx="985.8" cy="236.7" rx="8.3" ry="10.8" fill="#f2c81c" stroke="#6e5c08" stroke-width="0.9"/>
<text x="985.8" y="240.9" text-anchor="middle" font-family="Liberation Sans" font-weight="bold" font-size="13.2" fill="#2b2205" stroke="#2b2205" stroke-width="0.35">E</text>
<ellipse cx="1003.6" cy="237.7" rx="8.3" ry="10.8" fill="#f2c81c" stroke="#6e5c08" stroke-width="0.9"/>
<text x="1003.6" y="241.9" text-anchor="middle" font-family="Liberation Sans" font-weight="bold" font-size="13.2" fill="#2b2205" stroke="#2b2205" stroke-width="0.35">F</text>
<text x="787.9" y="176.5" text-anchor="middle" font-family="Liberation Sans" font-size="14.5" fill="#111">(<tspan font-weight="bold">I</tspan>)</text>
<text x="923.2" y="175" text-anchor="middle" font-family="Liberation Sans" font-size="14.5" fill="#111">(<tspan font-weight="bold">II</tspan>)</text>
<text x="1059.6" y="172.8" text-anchor="middle" font-family="Liberation Sans" font-size="14.5" fill="#111">(<tspan font-weight="bold">III</tspan>)</text>
<text x="851.4" y="361" text-anchor="middle" font-family="Liberation Sans" font-size="14.5" fill="#111">(IV)</text>
<text x="996.1" y="356" text-anchor="middle" font-family="Liberation Sans" font-size="14.5" fill="#111">(V)</text>
<text x="829.5" y="392.2" text-anchor="start" font-family="Liberation Sans" font-weight="normal" font-size="16.8" fill="#111" textLength="200.3" lengthAdjust="spacingAndGlyphs">Five guest binding modes</text>
<text x="463.4" y="317.0" text-anchor="start" font-family="Liberation Sans" font-weight="normal" font-size="16.8" fill="#111" textLength="196.6" lengthAdjust="spacingAndGlyphs">Crystalline sponge CMOF</text>
<text x="116.8" y="389.3" font-family="Liberation Sans" font-size="16.5" fill="#111" textLength="92.4" lengthAdjust="spacingAndGlyphs">Guests <tspan font-weight="bold">1-14</tspan></text>
<polygon points="434.3,280 691,280 691,276.6 698.4,283.6 691,290.6 691,287.5 434.3,287.5" fill="#ffff00" stroke="#6e6a00" stroke-width="1"/>
</g>
</svg>
</body></html>
